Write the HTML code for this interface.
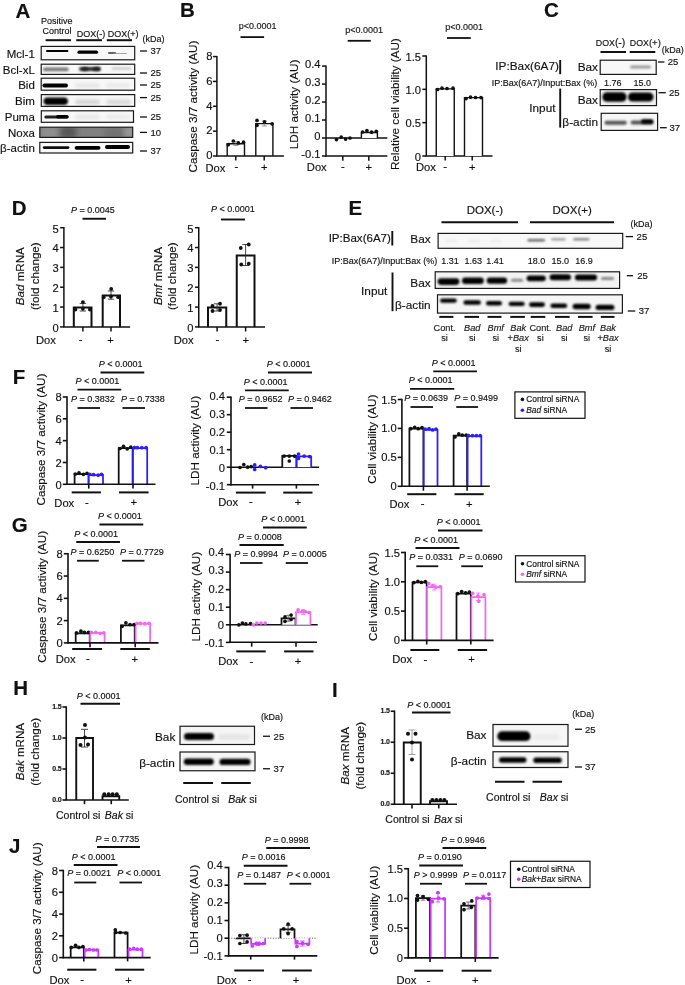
<!DOCTYPE html>
<html><head><meta charset="utf-8"><style>
html,body{margin:0;padding:0;background:#fff;}
body>svg{display:block;filter:blur(0.35px);}
text{font-family:"Liberation Sans", sans-serif;stroke:#111;stroke-width:0.15px;}
</style></head><body>
<svg width="685" height="985" viewBox="0 0 685 985" font-family='"Liberation Sans", sans-serif' fill="#111">

<defs>
<filter id="b04" x="-20%" y="-100%" width="140%" height="300%"><feGaussianBlur stdDeviation="0.55"/></filter>
<filter id="b07" x="-20%" y="-100%" width="140%" height="300%"><feGaussianBlur stdDeviation="0.95"/></filter>
<filter id="b1" x="-20%" y="-100%" width="140%" height="300%"><feGaussianBlur stdDeviation="1"/></filter>
<filter id="b15" x="-20%" y="-100%" width="140%" height="300%"><feGaussianBlur stdDeviation="1.5"/></filter>
<filter id="b25" x="-30%" y="-150%" width="160%" height="400%"><feGaussianBlur stdDeviation="2.5"/></filter>
</defs>

<rect width="685" height="985" fill="#fff"/>
<text x="15.60" y="17.64" font-size="20.5" font-weight="bold">A</text>
<text x="56.80" y="23.62" font-size="9" text-anchor="middle">Positive</text>
<text x="56.90" y="34.22" font-size="9" text-anchor="middle">Control</text>
<text x="90.90" y="36.82" font-size="9" text-anchor="middle">DOX(-)</text>
<text x="123.10" y="36.82" font-size="9" text-anchor="middle">DOX(+)</text>
<line x1="45.60" y1="40.20" x2="71.00" y2="40.20" stroke="#111" stroke-width="2" />
<line x1="76.25" y1="40.20" x2="102.00" y2="40.20" stroke="#111" stroke-width="2" />
<line x1="106.80" y1="40.20" x2="132.00" y2="40.20" stroke="#111" stroke-width="2" />
<text x="142.40" y="42.22" font-size="9">(kDa)</text>
<svg x="41.20" y="46.40" width="93.50" height="13.40" viewBox="41.20 46.40 93.50 13.40" overflow="hidden">
<rect x="41.20" y="46.40" width="93.50" height="13.40" fill="#f8f8f8"/>
<rect x="46.00" y="50.00" width="22.40" height="2.00" rx="1.00" fill="#000" opacity="1.0" filter="url(#b04)"/>
<rect x="77.40" y="50.60" width="20.70" height="3.20" rx="1.60" fill="#000" opacity="1.0" filter="url(#b04)"/>
<rect x="108.00" y="52.30" width="8.00" height="1.40" rx="0.70" fill="#333" opacity="1.0" filter="url(#b04)"/>
<rect x="113.00" y="52.95" width="14.00" height="0.90" rx="0.45" fill="#888" opacity="1.0" filter="url(#b04)"/>
</svg>
<rect x="41.20" y="46.40" width="93.50" height="13.40" fill="none" stroke="#1a1a1a" stroke-width="1.2" />
<text x="34.80" y="57.52" font-size="11.5" text-anchor="end">Mcl-1</text>
<line x1="140.00" y1="51.00" x2="147.00" y2="51.00" stroke="#111" stroke-width="1.3" />
<text x="150.40" y="54.40" font-size="9.5">37</text>
<svg x="41.20" y="64.20" width="93.50" height="10.20" viewBox="41.20 64.20 93.50 10.20" overflow="hidden">
<rect x="41.20" y="64.20" width="93.50" height="10.20" fill="#f8f8f8"/>
<rect x="43.00" y="67.60" width="25.70" height="3.60" rx="1.80" fill="#777" opacity="1.0" filter="url(#b07)"/>
<rect x="79.00" y="67.10" width="21.80" height="3.80" rx="1.90" fill="#333" opacity="1.0" filter="url(#b07)"/>
<rect x="82.00" y="67.20" width="6.00" height="3.60" rx="1.80" fill="#222" opacity="1.0" filter="url(#b07)"/>
<rect x="93.00" y="67.20" width="7.00" height="3.60" rx="1.80" fill="#222" opacity="1.0" filter="url(#b07)"/>
<rect x="111.70" y="67.35" width="19.70" height="2.50" rx="1.25" fill="#ccc" opacity="1.0" filter="url(#b1)"/>
</svg>
<rect x="41.20" y="64.20" width="93.50" height="10.20" fill="none" stroke="#1a1a1a" stroke-width="1.2" />
<text x="34.80" y="73.72" font-size="11.5" text-anchor="end">Bcl-xL</text>
<line x1="140.00" y1="73.00" x2="147.00" y2="73.00" stroke="#111" stroke-width="1.3" />
<text x="150.40" y="76.40" font-size="9.5">25</text>
<svg x="41.20" y="78.20" width="93.50" height="12.00" viewBox="41.20 78.20 93.50 12.00" overflow="hidden">
<rect x="41.20" y="78.20" width="93.50" height="12.00" fill="#f8f8f8"/>
<rect x="42.40" y="83.60" width="25.60" height="3.80" rx="1.90" fill="#000" opacity="1.0" filter="url(#b04)"/>
<rect x="75.00" y="83.00" width="25.00" height="5.00" rx="2.50" fill="#e8e8e8" opacity="1.0" filter="url(#b15)"/>
<rect x="106.00" y="83.00" width="24.00" height="5.00" rx="2.50" fill="#ebebeb" opacity="1.0" filter="url(#b15)"/>
</svg>
<rect x="41.20" y="78.20" width="93.50" height="12.00" fill="none" stroke="#1a1a1a" stroke-width="1.2" />
<text x="34.80" y="88.62" font-size="11.5" text-anchor="end">Bid</text>
<line x1="140.00" y1="85.00" x2="147.00" y2="85.00" stroke="#111" stroke-width="1.3" />
<text x="150.40" y="88.40" font-size="9.5">25</text>
<svg x="41.30" y="94.60" width="93.40" height="11.80" viewBox="41.30 94.60 93.40 11.80" overflow="hidden">
<rect x="41.30" y="94.60" width="93.40" height="11.80" fill="#f8f8f8"/>
<rect x="43.60" y="97.45" width="24.30" height="7.50" rx="3.75" fill="#000" opacity="1.0" filter="url(#b07)"/>
<rect x="75.00" y="99.50" width="25.00" height="5.00" rx="2.50" fill="#d6d6d6" opacity="1.0" filter="url(#b15)"/>
<rect x="106.00" y="99.50" width="25.00" height="5.00" rx="2.50" fill="#dadada" opacity="1.0" filter="url(#b15)"/>
</svg>
<rect x="41.30" y="94.60" width="93.40" height="11.80" fill="none" stroke="#1a1a1a" stroke-width="1.2" />
<text x="34.80" y="104.92" font-size="11.5" text-anchor="end">Bim</text>
<line x1="140.00" y1="97.60" x2="147.00" y2="97.60" stroke="#111" stroke-width="1.3" />
<text x="150.40" y="101.00" font-size="9.5">25</text>
<svg x="41.30" y="110.80" width="92.20" height="11.50" viewBox="41.30 110.80 92.20 11.50" overflow="hidden">
<rect x="41.30" y="110.80" width="92.20" height="11.50" fill="#f8f8f8"/>
<rect x="44.30" y="115.50" width="24.30" height="3.00" rx="1.50" fill="#222" opacity="1.0" filter="url(#b04)"/>
<rect x="56.00" y="115.10" width="12.60" height="3.40" rx="1.70" fill="#000" opacity="1.0" filter="url(#b04)"/>
<rect x="75.00" y="114.50" width="25.00" height="5.00" rx="2.50" fill="#e8e8e8" opacity="1.0" filter="url(#b15)"/>
<rect x="106.00" y="114.50" width="24.00" height="5.00" rx="2.50" fill="#ebebeb" opacity="1.0" filter="url(#b15)"/>
</svg>
<rect x="41.30" y="110.80" width="92.20" height="11.50" fill="none" stroke="#1a1a1a" stroke-width="1.2" />
<text x="34.80" y="120.97" font-size="11.5" text-anchor="end">Puma</text>
<line x1="140.00" y1="117.00" x2="147.00" y2="117.00" stroke="#111" stroke-width="1.3" />
<text x="150.40" y="120.40" font-size="9.5">25</text>
<svg x="39.80" y="127.20" width="92.90" height="10.20" viewBox="39.80 127.20 92.90 10.20" overflow="hidden">
<rect x="39.80" y="127.20" width="92.90" height="10.20" fill="#808080"/>
<rect x="40.00" y="126.30" width="18.00" height="12.00" rx="6.00" fill="#9a9a9a" opacity="0.6" filter="url(#b25)"/>
<rect x="60.00" y="126.80" width="17.00" height="11.00" rx="5.50" fill="#333" opacity="0.55" filter="url(#b25)"/>
<rect x="104.00" y="128.00" width="20.00" height="10.00" rx="5.00" fill="#555" opacity="0.35" filter="url(#b25)"/>
<rect x="124.00" y="126.30" width="10.00" height="12.00" rx="5.00" fill="#b0b0b0" opacity="0.5" filter="url(#b25)"/>
</svg>
<rect x="39.80" y="127.20" width="92.90" height="10.20" fill="none" stroke="#1a1a1a" stroke-width="1.2" />
<text x="34.80" y="136.72" font-size="11.5" text-anchor="end">Noxa</text>
<line x1="140.00" y1="132.40" x2="147.00" y2="132.40" stroke="#111" stroke-width="1.3" />
<text x="150.40" y="135.80" font-size="9.5">10</text>
<svg x="39.80" y="142.40" width="92.90" height="10.60" viewBox="39.80 142.40 92.90 10.60" overflow="hidden">
<rect x="39.80" y="142.40" width="92.90" height="10.60" fill="#f8f8f8"/>
<rect x="42.80" y="146.20" width="26.60" height="2.80" rx="1.40" fill="#111" opacity="1.0" filter="url(#b04)"/>
<rect x="74.70" y="145.90" width="25.80" height="3.80" rx="1.90" fill="#000" opacity="1.0" filter="url(#b04)"/>
<rect x="105.00" y="144.90" width="25.00" height="4.00" rx="2.00" fill="#000" opacity="1.0" filter="url(#b04)"/>
</svg>
<rect x="39.80" y="142.40" width="92.90" height="10.60" fill="none" stroke="#1a1a1a" stroke-width="1.2" />
<text x="34.80" y="152.12" font-size="11.5" text-anchor="end">β-actin</text>
<line x1="140.00" y1="151.00" x2="147.00" y2="151.00" stroke="#111" stroke-width="1.3" />
<text x="150.40" y="154.40" font-size="9.5">37</text>
<text x="180.00" y="17.14" font-size="20.5" font-weight="bold">B</text>
<line x1="216.90" y1="55.96" x2="216.90" y2="156.00" stroke="#111" stroke-width="1.5" />
<line x1="212.90" y1="156.00" x2="216.90" y2="156.00" stroke="#111" stroke-width="1.5" />
<text x="212.60" y="159.31" font-size="11.2" text-anchor="end">0</text>
<line x1="212.90" y1="131.14" x2="216.90" y2="131.14" stroke="#111" stroke-width="1.5" />
<text x="212.60" y="134.45" font-size="11.2" text-anchor="end">2</text>
<line x1="212.90" y1="106.28" x2="216.90" y2="106.28" stroke="#111" stroke-width="1.5" />
<text x="212.60" y="109.59" font-size="11.2" text-anchor="end">4</text>
<line x1="212.90" y1="81.42" x2="216.90" y2="81.42" stroke="#111" stroke-width="1.5" />
<text x="212.60" y="84.73" font-size="11.2" text-anchor="end">6</text>
<line x1="212.90" y1="56.56" x2="216.90" y2="56.56" stroke="#111" stroke-width="1.5" />
<text x="212.60" y="59.87" font-size="11.2" text-anchor="end">8</text>
<path d="M227.20,156.00 L227.20,143.70 L244.50,143.70 L244.50,156.00" fill="#fff" stroke="#111" stroke-width="1.4"/>
<path d="M255.80,156.00 L255.80,123.60 L272.90,123.60 L272.90,156.00" fill="#fff" stroke="#111" stroke-width="1.4"/>
<line x1="235.85" y1="141.50" x2="235.85" y2="145.50" stroke="#777" stroke-width="0.7" />
<line x1="233.35" y1="141.50" x2="238.35" y2="141.50" stroke="#777" stroke-width="0.7" />
<line x1="233.35" y1="145.50" x2="238.35" y2="145.50" stroke="#777" stroke-width="0.7" />
<line x1="264.35" y1="121.00" x2="264.35" y2="126.00" stroke="#777" stroke-width="0.7" />
<line x1="261.85" y1="121.00" x2="266.85" y2="121.00" stroke="#777" stroke-width="0.7" />
<line x1="261.85" y1="126.00" x2="266.85" y2="126.00" stroke="#777" stroke-width="0.7" />
<circle cx="228.20" cy="144.70" r="1.85" fill="#111"/>
<circle cx="233.30" cy="141.00" r="1.85" fill="#111"/>
<circle cx="238.40" cy="142.90" r="1.85" fill="#111"/>
<circle cx="243.50" cy="142.20" r="1.85" fill="#111"/>
<circle cx="257.00" cy="120.40" r="1.85" fill="#111"/>
<circle cx="257.00" cy="125.30" r="1.85" fill="#111"/>
<circle cx="264.50" cy="121.75" r="1.85" fill="#111"/>
<circle cx="272.10" cy="123.80" r="1.85" fill="#111"/>
<line x1="216.20" y1="156.00" x2="283.90" y2="156.00" stroke="#111" stroke-width="1.5" />
<line x1="235.80" y1="156.00" x2="235.80" y2="160.50" stroke="#111" stroke-width="1.5" />
<line x1="264.20" y1="156.00" x2="264.20" y2="160.50" stroke="#111" stroke-width="1.5" />
<text x="205.50" y="171.51" font-size="11.2">Dox</text>
<text x="236.30" y="170.31" font-size="11.2" text-anchor="middle">-</text>
<text x="264.20" y="171.31" font-size="11.2" text-anchor="middle">+</text>
<line x1="240.50" y1="37.10" x2="264.10" y2="37.10" stroke="#111" stroke-width="1.8" />
<text x="238.80" y="28.92" font-size="9" fill="#222">p&lt;0.0001</text>
<text transform="translate(197.29,106.50) rotate(-90)" font-size="11.7" text-anchor="middle">Caspase 3/7 activity (AU)</text>
<line x1="326.00" y1="65.48" x2="326.00" y2="156.58" stroke="#111" stroke-width="1.5" />
<line x1="322.00" y1="66.08" x2="326.00" y2="66.08" stroke="#111" stroke-width="1.5" />
<text x="320.60" y="68.19" font-size="11.2" text-anchor="end">0.4</text>
<line x1="322.00" y1="84.06" x2="326.00" y2="84.06" stroke="#111" stroke-width="1.5" />
<text x="320.60" y="86.17" font-size="11.2" text-anchor="end">0.3</text>
<line x1="322.00" y1="102.04" x2="326.00" y2="102.04" stroke="#111" stroke-width="1.5" />
<text x="320.60" y="104.15" font-size="11.2" text-anchor="end">0.2</text>
<line x1="322.00" y1="120.02" x2="326.00" y2="120.02" stroke="#111" stroke-width="1.5" />
<text x="320.60" y="122.13" font-size="11.2" text-anchor="end">0.1</text>
<line x1="322.00" y1="138.00" x2="326.00" y2="138.00" stroke="#111" stroke-width="1.5" />
<text x="320.60" y="140.11" font-size="11.2" text-anchor="end">0</text>
<line x1="322.00" y1="155.98" x2="326.00" y2="155.98" stroke="#111" stroke-width="1.5" />
<text x="320.60" y="158.09" font-size="11.2" text-anchor="end">-0.1</text>
<line x1="325.30" y1="155.98" x2="387.30" y2="155.98" stroke="#111" stroke-width="1.5" />
<line x1="326.00" y1="138.00" x2="387.30" y2="138.00" stroke="#111" stroke-width="1.5" />
<path d="M361.40,138.00 L361.40,132.50 L377.40,132.50 L377.40,138.00" fill="#fff" stroke="#111" stroke-width="1.4"/>
<circle cx="336.50" cy="139.60" r="1.85" fill="#111"/>
<circle cx="341.20" cy="137.20" r="1.85" fill="#111"/>
<circle cx="345.60" cy="139.10" r="1.85" fill="#111"/>
<circle cx="350.00" cy="138.00" r="1.85" fill="#111"/>
<circle cx="362.60" cy="132.00" r="1.85" fill="#111"/>
<circle cx="366.90" cy="130.60" r="1.85" fill="#111"/>
<circle cx="371.60" cy="132.20" r="1.85" fill="#111"/>
<circle cx="376.30" cy="131.30" r="1.85" fill="#111"/>
<line x1="342.80" y1="155.98" x2="342.80" y2="160.80" stroke="#111" stroke-width="1.5" />
<line x1="368.80" y1="155.98" x2="368.80" y2="160.80" stroke="#111" stroke-width="1.5" />
<text x="306.80" y="171.11" font-size="11.2">Dox</text>
<text x="342.80" y="170.31" font-size="11.2" text-anchor="middle">-</text>
<text x="368.80" y="171.31" font-size="11.2" text-anchor="middle">+</text>
<line x1="347.70" y1="40.80" x2="370.80" y2="40.80" stroke="#111" stroke-width="1.8" />
<text x="345.20" y="33.42" font-size="9" fill="#222">p&lt;0.0001</text>
<text transform="translate(298.09,104.40) rotate(-90)" font-size="11.7" text-anchor="middle">LDH activity (AU)</text>
<line x1="426.30" y1="55.40" x2="426.30" y2="156.00" stroke="#111" stroke-width="1.5" />
<line x1="422.30" y1="56.00" x2="426.30" y2="56.00" stroke="#111" stroke-width="1.5" />
<text x="421.10" y="60.50" font-size="11.2" text-anchor="end">1.5</text>
<line x1="422.30" y1="89.33" x2="426.30" y2="89.33" stroke="#111" stroke-width="1.5" />
<text x="421.10" y="93.84" font-size="11.2" text-anchor="end">1.0</text>
<line x1="422.30" y1="122.66" x2="426.30" y2="122.66" stroke="#111" stroke-width="1.5" />
<text x="421.10" y="127.17" font-size="11.2" text-anchor="end">0.5</text>
<line x1="422.30" y1="156.00" x2="426.30" y2="156.00" stroke="#111" stroke-width="1.5" />
<text x="421.10" y="160.51" font-size="11.2" text-anchor="end">0</text>
<line x1="425.60" y1="156.00" x2="492.50" y2="156.00" stroke="#111" stroke-width="1.5" />
<path d="M436.25,156.00 L436.25,88.90 L454.25,88.90 L454.25,156.00" fill="#fff" stroke="#111" stroke-width="1.4"/>
<path d="M464.50,156.00 L464.50,97.60 L482.50,97.60 L482.50,156.00" fill="#fff" stroke="#111" stroke-width="1.4"/>
<circle cx="437.50" cy="89.50" r="1.85" fill="#111"/>
<circle cx="442.00" cy="88.20" r="1.85" fill="#111"/>
<circle cx="447.00" cy="88.50" r="1.85" fill="#111"/>
<circle cx="453.00" cy="88.20" r="1.85" fill="#111"/>
<circle cx="466.00" cy="98.60" r="1.85" fill="#111"/>
<circle cx="470.50" cy="97.20" r="1.85" fill="#111"/>
<circle cx="475.50" cy="97.50" r="1.85" fill="#111"/>
<circle cx="481.00" cy="97.60" r="1.85" fill="#111"/>
<line x1="445.20" y1="156.00" x2="445.20" y2="160.50" stroke="#111" stroke-width="1.5" />
<line x1="472.20" y1="156.00" x2="472.20" y2="160.50" stroke="#111" stroke-width="1.5" />
<text x="416.00" y="171.11" font-size="11.2">Dox</text>
<text x="445.20" y="170.31" font-size="11.2" text-anchor="middle">-</text>
<text x="472.20" y="171.31" font-size="11.2" text-anchor="middle">+</text>
<line x1="447.00" y1="38.00" x2="470.75" y2="38.00" stroke="#111" stroke-width="1.8" />
<text x="445.30" y="30.22" font-size="9" fill="#222">p&lt;0.0001</text>
<text transform="translate(399.39,104.20) rotate(-90)" font-size="11.7" text-anchor="middle">Relative cell viability (AU)</text>
<text x="544.00" y="17.34" font-size="20.5" font-weight="bold">C</text>
<text x="595.8" y="46.2" font-size="8.8">DOX<tspan font-size="10.5">(-)</tspan></text>
<text x="629.8" y="46.3" font-size="8.8">DOX<tspan font-size="9.6">(+)</tspan></text>
<line x1="600.50" y1="52.00" x2="626.00" y2="52.00" stroke="#111" stroke-width="2" />
<line x1="629.70" y1="52.00" x2="655.30" y2="52.00" stroke="#111" stroke-width="2" />
<text x="661.80" y="52.52" font-size="9">(kDa)</text>
<text x="558.90" y="70.42" font-size="11.8" text-anchor="end">IP:Bax(6A7)</text>
<line x1="560.20" y1="60.00" x2="560.20" y2="74.20" stroke="#111" stroke-width="1.9" />
<text x="598.00" y="71.42" font-size="11.8" text-anchor="end">Bax</text>
<text x="597.30" y="85.82" font-size="9" text-anchor="end">IP:Bax(6A7)/Input:Bax (%)</text>
<text x="612.80" y="85.82" font-size="9" text-anchor="middle">1.76</text>
<text x="642.20" y="85.82" font-size="9" text-anchor="middle">15.0</text>
<text x="555.50" y="112.42" font-size="11.8" text-anchor="end">Input</text>
<line x1="560.20" y1="88.60" x2="560.20" y2="127.60" stroke="#111" stroke-width="1.9" />
<text x="598.00" y="103.92" font-size="11.8" text-anchor="end">Bax</text>
<text x="598.00" y="125.52" font-size="11.8" text-anchor="end">β-actin</text>
<svg x="600.20" y="60.20" width="56.00" height="14.20" viewBox="600.20 60.20 56.00 14.20" overflow="hidden">
<rect x="600.20" y="60.20" width="56.00" height="14.20" fill="#f8f8f8"/>
<rect x="630.00" y="65.40" width="21.00" height="3.00" rx="1.50" fill="#9a9a9a" opacity="1.0" filter="url(#b1)"/>
</svg>
<svg x="600.20" y="89.60" width="56.30" height="16.00" viewBox="600.20 89.60 56.30 16.00" overflow="hidden">
<rect x="600.20" y="89.60" width="56.30" height="16.00" fill="#f2f2f2"/>
<rect x="602.30" y="92.20" width="24.30" height="9.60" rx="4.80" fill="#000" opacity="1.0" filter="url(#b07)"/>
<rect x="628.00" y="92.40" width="25.50" height="9.20" rx="4.60" fill="#000" opacity="1.0" filter="url(#b07)"/>
</svg>
<svg x="601.20" y="113.30" width="56.40" height="17.10" viewBox="601.20 113.30 56.40 17.10" overflow="hidden">
<rect x="601.20" y="113.30" width="56.40" height="17.10" fill="#f6f6f6"/>
<rect x="604.50" y="120.80" width="22.30" height="4.00" rx="2.00" fill="#555" opacity="1.0" filter="url(#b07)"/>
<rect x="630.60" y="120.40" width="22.70" height="4.00" rx="2.00" fill="#555" opacity="1.0" filter="url(#b07)"/>
<rect x="641.00" y="119.15" width="12.30" height="4.50" rx="2.25" fill="#000" opacity="1.0" filter="url(#b07)"/>
</svg>
<rect x="600.20" y="60.20" width="56.00" height="14.20" fill="none" stroke="#1a1a1a" stroke-width="1.2" />
<rect x="600.20" y="89.60" width="56.30" height="16.00" fill="none" stroke="#1a1a1a" stroke-width="1.2" />
<rect x="601.20" y="113.30" width="56.40" height="17.10" fill="none" stroke="#1a1a1a" stroke-width="1.2" />
<line x1="658.00" y1="62.00" x2="664.40" y2="62.00" stroke="#111" stroke-width="1.3" />
<text x="667.70" y="65.40" font-size="9.5">25</text>
<line x1="658.50" y1="92.70" x2="665.80" y2="92.70" stroke="#111" stroke-width="1.3" />
<text x="669.00" y="96.10" font-size="9.5">25</text>
<line x1="660.00" y1="127.70" x2="666.75" y2="127.70" stroke="#111" stroke-width="1.3" />
<text x="669.50" y="131.10" font-size="9.5">37</text>
<text x="11.80" y="214.64" font-size="20.5" font-weight="bold">D</text>
<line x1="63.90" y1="227.10" x2="63.90" y2="326.90" stroke="#111" stroke-width="1.5" />
<line x1="60.10" y1="326.90" x2="63.90" y2="326.90" stroke="#111" stroke-width="1.5" />
<text x="58.70" y="331.71" font-size="11.2" text-anchor="end">0</text>
<line x1="60.10" y1="307.06" x2="63.90" y2="307.06" stroke="#111" stroke-width="1.5" />
<text x="58.70" y="311.87" font-size="11.2" text-anchor="end">1</text>
<line x1="60.10" y1="287.22" x2="63.90" y2="287.22" stroke="#111" stroke-width="1.5" />
<text x="58.70" y="292.03" font-size="11.2" text-anchor="end">2</text>
<line x1="60.10" y1="267.38" x2="63.90" y2="267.38" stroke="#111" stroke-width="1.5" />
<text x="58.70" y="272.19" font-size="11.2" text-anchor="end">3</text>
<line x1="60.10" y1="247.54" x2="63.90" y2="247.54" stroke="#111" stroke-width="1.5" />
<text x="58.70" y="252.35" font-size="11.2" text-anchor="end">4</text>
<line x1="60.10" y1="227.70" x2="63.90" y2="227.70" stroke="#111" stroke-width="1.5" />
<text x="58.70" y="232.51" font-size="11.2" text-anchor="end">5</text>
<path d="M73.80,326.90 L73.80,307.50 L91.50,307.50 L91.50,326.90" fill="#fff" stroke="#111" stroke-width="2"/>
<path d="M102.70,326.90 L102.70,295.60 L120.00,295.60 L120.00,326.90" fill="#fff" stroke="#111" stroke-width="2"/>
<line x1="82.90" y1="303.40" x2="82.90" y2="311.00" stroke="#333" stroke-width="0.9" />
<line x1="79.70" y1="303.40" x2="86.10" y2="303.40" stroke="#333" stroke-width="0.9" />
<line x1="79.70" y1="311.00" x2="86.10" y2="311.00" stroke="#333" stroke-width="0.9" />
<line x1="111.00" y1="291.00" x2="111.00" y2="299.20" stroke="#333" stroke-width="0.9" />
<line x1="107.80" y1="291.00" x2="114.20" y2="291.00" stroke="#333" stroke-width="0.9" />
<line x1="107.80" y1="299.20" x2="114.20" y2="299.20" stroke="#333" stroke-width="0.9" />
<circle cx="82.90" cy="302.10" r="1.9" fill="#111"/>
<circle cx="75.40" cy="309.50" r="1.9" fill="#111"/>
<circle cx="82.90" cy="308.70" r="1.9" fill="#111"/>
<circle cx="89.90" cy="309.50" r="1.9" fill="#111"/>
<circle cx="111.20" cy="288.90" r="1.9" fill="#111"/>
<circle cx="103.70" cy="297.20" r="1.9" fill="#111"/>
<circle cx="111.00" cy="296.50" r="1.9" fill="#111"/>
<circle cx="118.20" cy="297.20" r="1.9" fill="#111"/>
<line x1="63.20" y1="326.90" x2="130.10" y2="326.90" stroke="#111" stroke-width="1.5" />
<line x1="82.90" y1="326.90" x2="82.90" y2="331.50" stroke="#111" stroke-width="1.5" />
<line x1="111.00" y1="326.90" x2="111.00" y2="331.50" stroke="#111" stroke-width="1.5" />
<text x="36.00" y="344.01" font-size="11.2">Dox</text>
<text x="80.60" y="343.21" font-size="11.2" text-anchor="middle">-</text>
<text x="110.60" y="344.31" font-size="11.2" text-anchor="middle">+</text>
<line x1="82.50" y1="218.75" x2="106.00" y2="218.75" stroke="#111" stroke-width="1.9" />
<text x="71.00" y="212.72" font-size="9"><tspan font-style="italic">P</tspan> = 0.0045</text>
<text transform="translate(24.20,276.20) rotate(-90)" font-size="11.6" text-anchor="middle"><tspan font-style="italic">Bad</tspan> mRNA</text>
<text transform="translate(38.50,276.20) rotate(-90)" font-size="11.6" text-anchor="middle">(fold change)</text>
<line x1="198.75" y1="227.10" x2="198.75" y2="326.90" stroke="#111" stroke-width="1.5" />
<line x1="194.95" y1="326.90" x2="198.75" y2="326.90" stroke="#111" stroke-width="1.5" />
<text x="193.55" y="331.71" font-size="11.2" text-anchor="end">0</text>
<line x1="194.95" y1="307.06" x2="198.75" y2="307.06" stroke="#111" stroke-width="1.5" />
<text x="193.55" y="311.87" font-size="11.2" text-anchor="end">1</text>
<line x1="194.95" y1="287.22" x2="198.75" y2="287.22" stroke="#111" stroke-width="1.5" />
<text x="193.55" y="292.03" font-size="11.2" text-anchor="end">2</text>
<line x1="194.95" y1="267.38" x2="198.75" y2="267.38" stroke="#111" stroke-width="1.5" />
<text x="193.55" y="272.19" font-size="11.2" text-anchor="end">3</text>
<line x1="194.95" y1="247.54" x2="198.75" y2="247.54" stroke="#111" stroke-width="1.5" />
<text x="193.55" y="252.35" font-size="11.2" text-anchor="end">4</text>
<line x1="194.95" y1="227.70" x2="198.75" y2="227.70" stroke="#111" stroke-width="1.5" />
<text x="193.55" y="232.51" font-size="11.2" text-anchor="end">5</text>
<path d="M208.00,326.90 L208.00,307.50 L226.25,307.50 L226.25,326.90" fill="#fff" stroke="#111" stroke-width="2"/>
<path d="M236.75,326.90 L236.75,255.50 L254.50,255.50 L254.50,326.90" fill="#fff" stroke="#111" stroke-width="2"/>
<line x1="217.10" y1="303.80" x2="217.10" y2="311.00" stroke="#333" stroke-width="0.9" />
<line x1="213.90" y1="303.80" x2="220.30" y2="303.80" stroke="#333" stroke-width="0.9" />
<line x1="213.90" y1="311.00" x2="220.30" y2="311.00" stroke="#333" stroke-width="0.9" />
<line x1="245.60" y1="244.50" x2="245.60" y2="265.50" stroke="#333" stroke-width="0.9" />
<line x1="242.40" y1="244.50" x2="248.80" y2="244.50" stroke="#333" stroke-width="0.9" />
<line x1="242.40" y1="265.50" x2="248.80" y2="265.50" stroke="#333" stroke-width="0.9" />
<circle cx="212.50" cy="306.00" r="1.9" fill="#111"/>
<circle cx="220.00" cy="303.75" r="1.9" fill="#111"/>
<circle cx="212.50" cy="311.00" r="1.9" fill="#111"/>
<circle cx="220.00" cy="310.00" r="1.9" fill="#111"/>
<circle cx="240.75" cy="248.00" r="1.9" fill="#111"/>
<circle cx="248.75" cy="244.50" r="1.9" fill="#111"/>
<circle cx="241.25" cy="264.50" r="1.9" fill="#111"/>
<circle cx="248.75" cy="263.75" r="1.9" fill="#111"/>
<line x1="198.05" y1="326.90" x2="265.00" y2="326.90" stroke="#111" stroke-width="1.5" />
<line x1="217.10" y1="326.90" x2="217.10" y2="331.50" stroke="#111" stroke-width="1.5" />
<line x1="245.60" y1="326.90" x2="245.60" y2="331.50" stroke="#111" stroke-width="1.5" />
<text x="173.75" y="344.01" font-size="11.2">Dox</text>
<text x="217.30" y="343.21" font-size="11.2" text-anchor="middle">-</text>
<text x="245.80" y="344.31" font-size="11.2" text-anchor="middle">+</text>
<line x1="221.00" y1="219.50" x2="245.00" y2="219.50" stroke="#111" stroke-width="1.9" />
<text x="211.00" y="211.97" font-size="9"><tspan font-style="italic">P</tspan> &lt; 0.0001</text>
<text transform="translate(162.10,276.10) rotate(-90)" font-size="11.6" text-anchor="middle"><tspan font-style="italic">Bmf</tspan> mRNA</text>
<text transform="translate(175.70,276.20) rotate(-90)" font-size="11.6" text-anchor="middle">(fold change)</text>
<text x="348.50" y="214.84" font-size="20.5" font-weight="bold">E</text>
<text x="484.90" y="213.62" font-size="11.5" text-anchor="middle">DOX(-)</text>
<text x="572.20" y="213.62" font-size="11.5" text-anchor="middle">DOX(+)</text>
<line x1="441.50" y1="222.20" x2="518.00" y2="222.20" stroke="#111" stroke-width="2" />
<line x1="530.00" y1="222.20" x2="614.00" y2="222.20" stroke="#111" stroke-width="2" />
<text x="630.40" y="226.62" font-size="9">(kDa)</text>
<text x="390.90" y="241.63" font-size="11.55" text-anchor="end">IP:Bax(6A7)</text>
<line x1="392.30" y1="231.00" x2="392.30" y2="245.50" stroke="#111" stroke-width="1.9" />
<text x="430.60" y="243.42" font-size="11.8" text-anchor="end">Bax</text>
<text x="437.20" y="263.82" font-size="9" text-anchor="end">IP:Bax(6A7)/Input:Bax (%)</text>
<text x="449.90" y="263.52" font-size="9" text-anchor="middle">1.31</text>
<text x="473.20" y="263.52" font-size="9" text-anchor="middle">1.63</text>
<text x="495.10" y="263.52" font-size="9" text-anchor="middle">1.41</text>
<text x="536.40" y="263.52" font-size="9" text-anchor="middle">18.0</text>
<text x="560.30" y="263.52" font-size="9" text-anchor="middle">15.0</text>
<text x="583.90" y="263.52" font-size="9" text-anchor="middle">16.9</text>
<text x="387.30" y="295.42" font-size="11.8" text-anchor="end">Input</text>
<line x1="392.50" y1="272.50" x2="392.50" y2="311.20" stroke="#111" stroke-width="1.9" />
<text x="430.60" y="286.92" font-size="11.8" text-anchor="end">Bax</text>
<text x="430.60" y="308.92" font-size="11.8" text-anchor="end">β-actin</text>
<svg x="438.10" y="233.40" width="184.60" height="14.90" viewBox="438.10 233.40 184.60 14.90" overflow="hidden">
<rect x="438.10" y="233.40" width="184.60" height="14.90" fill="#f8f8f8"/>
<rect x="527.40" y="239.00" width="17.60" height="2.60" rx="1.30" fill="#666" opacity="1.0" filter="url(#b07)"/>
<rect x="551.00" y="238.20" width="14.70" height="2.20" rx="1.10" fill="#999" opacity="1.0" filter="url(#b07)"/>
<rect x="573.30" y="238.05" width="16.10" height="2.50" rx="1.25" fill="#888" opacity="1.0" filter="url(#b07)"/>
<rect x="445.00" y="240.00" width="12.00" height="2.00" rx="1.00" fill="#eaeaea" opacity="1.0" filter="url(#b1)"/>
<rect x="468.00" y="240.00" width="12.00" height="2.00" rx="1.00" fill="#eaeaea" opacity="1.0" filter="url(#b1)"/>
<rect x="490.00" y="240.00" width="12.00" height="2.00" rx="1.00" fill="#eaeaea" opacity="1.0" filter="url(#b1)"/>
</svg>
<svg x="435.20" y="271.80" width="184.40" height="16.60" viewBox="435.20 271.80 184.40 16.60" overflow="hidden">
<rect x="435.20" y="271.80" width="184.40" height="16.60" fill="#f3f3f3"/>
<rect x="437.60" y="278.30" width="21.80" height="6.60" rx="3.30" fill="#000" opacity="1.0" filter="url(#b07)"/>
<rect x="462.00" y="277.60" width="21.80" height="6.40" rx="3.20" fill="#000" opacity="1.0" filter="url(#b07)"/>
<rect x="486.70" y="277.40" width="20.50" height="6.40" rx="3.20" fill="#000" opacity="1.0" filter="url(#b07)"/>
<rect x="510.80" y="278.70" width="12.40" height="3.00" rx="1.50" fill="#888" opacity="1.0" filter="url(#b07)"/>
<rect x="526.60" y="275.40" width="19.20" height="5.80" rx="2.90" fill="#000" opacity="1.0" filter="url(#b07)"/>
<rect x="549.60" y="274.20" width="21.40" height="6.00" rx="3.00" fill="#000" opacity="1.0" filter="url(#b07)"/>
<rect x="574.90" y="274.40" width="22.20" height="6.00" rx="3.00" fill="#000" opacity="1.0" filter="url(#b07)"/>
<rect x="601.00" y="277.10" width="13.00" height="3.00" rx="1.50" fill="#888" opacity="1.0" filter="url(#b07)"/>
</svg>
<svg x="437.50" y="294.80" width="184.90" height="18.30" viewBox="437.50 294.80 184.90 18.30" overflow="hidden">
<rect x="437.50" y="294.80" width="184.90" height="18.30" fill="#f6f6f6"/>
<rect x="440.00" y="298.40" width="16.80" height="4.40" rx="2.20" fill="#000" opacity="1.0" filter="url(#b07)"/>
<rect x="463.40" y="300.30" width="17.50" height="4.40" rx="2.20" fill="#000" opacity="1.0" filter="url(#b07)"/>
<rect x="486.00" y="300.90" width="16.00" height="4.60" rx="2.30" fill="#000" opacity="1.0" filter="url(#b07)"/>
<rect x="508.60" y="301.80" width="16.10" height="4.20" rx="2.10" fill="#000" opacity="1.0" filter="url(#b07)"/>
<rect x="529.00" y="302.30" width="16.00" height="4.60" rx="2.30" fill="#000" opacity="1.0" filter="url(#b07)"/>
<rect x="550.40" y="303.40" width="16.80" height="4.60" rx="2.30" fill="#000" opacity="1.0" filter="url(#b07)"/>
<rect x="572.60" y="303.80" width="18.10" height="5.40" rx="2.70" fill="#000" opacity="1.0" filter="url(#b07)"/>
<rect x="595.60" y="304.70" width="18.80" height="5.40" rx="2.70" fill="#000" opacity="1.0" filter="url(#b07)"/>
</svg>
<rect x="438.10" y="233.40" width="184.60" height="14.90" fill="none" stroke="#1a1a1a" stroke-width="1.2" />
<rect x="435.20" y="271.80" width="184.40" height="16.60" fill="none" stroke="#1a1a1a" stroke-width="1.2" />
<rect x="437.50" y="294.80" width="184.90" height="18.30" fill="none" stroke="#1a1a1a" stroke-width="1.2" />
<line x1="625.70" y1="236.60" x2="633.00" y2="236.60" stroke="#111" stroke-width="1.3" />
<text x="636.60" y="240.00" font-size="9.5">25</text>
<line x1="626.80" y1="275.70" x2="633.00" y2="275.70" stroke="#111" stroke-width="1.3" />
<text x="637.20" y="279.10" font-size="9.5">25</text>
<line x1="627.80" y1="311.00" x2="635.30" y2="311.00" stroke="#111" stroke-width="1.3" />
<text x="638.70" y="314.40" font-size="9.5">37</text>
<line x1="439.30" y1="316.90" x2="453.40" y2="316.90" stroke="#111" stroke-width="2" />
<line x1="464.50" y1="316.90" x2="479.00" y2="316.90" stroke="#111" stroke-width="2" />
<line x1="487.50" y1="316.90" x2="501.50" y2="316.90" stroke="#111" stroke-width="2" />
<line x1="510.30" y1="316.90" x2="524.90" y2="316.90" stroke="#111" stroke-width="2" />
<line x1="530.70" y1="316.90" x2="545.30" y2="316.90" stroke="#111" stroke-width="2" />
<line x1="555.00" y1="316.90" x2="569.60" y2="316.90" stroke="#111" stroke-width="2" />
<line x1="578.00" y1="316.90" x2="592.60" y2="316.90" stroke="#111" stroke-width="2" />
<line x1="600.80" y1="316.90" x2="614.50" y2="316.90" stroke="#111" stroke-width="2" />
<text x="444.60" y="330.69" font-size="9.2" text-anchor="middle" fill="#222">Cont.</text>
<text x="444.60" y="340.89" font-size="9.2" text-anchor="middle" fill="#222">si</text>
<text x="472.30" y="330.69" font-size="9.2" text-anchor="middle" fill="#222"><tspan font-style="italic">Bad</tspan></text>
<text x="472.30" y="340.89" font-size="9.2" text-anchor="middle" fill="#222">si</text>
<text x="495.70" y="330.69" font-size="9.2" text-anchor="middle" fill="#222"><tspan font-style="italic">Bmf</tspan></text>
<text x="495.70" y="340.89" font-size="9.2" text-anchor="middle" fill="#222">si</text>
<text x="518.20" y="330.69" font-size="9.2" text-anchor="middle" fill="#222"><tspan font-style="italic">Bak</tspan></text>
<text x="518.20" y="340.89" font-size="9.2" text-anchor="middle" fill="#222">+<tspan font-style="italic">Bax</tspan></text>
<text x="518.20" y="351.89" font-size="9.2" text-anchor="middle" fill="#222">si</text>
<text x="540.40" y="330.69" font-size="9.2" text-anchor="middle" fill="#222">Cont.</text>
<text x="540.40" y="340.89" font-size="9.2" text-anchor="middle" fill="#222">si</text>
<text x="564.30" y="330.69" font-size="9.2" text-anchor="middle" fill="#222"><tspan font-style="italic">Bad</tspan></text>
<text x="564.30" y="340.89" font-size="9.2" text-anchor="middle" fill="#222">si</text>
<text x="586.80" y="330.69" font-size="9.2" text-anchor="middle" fill="#222"><tspan font-style="italic">Bmf</tspan></text>
<text x="586.80" y="340.89" font-size="9.2" text-anchor="middle" fill="#222">si</text>
<text x="608.00" y="330.69" font-size="9.2" text-anchor="middle" fill="#222"><tspan font-style="italic">Bak</tspan></text>
<text x="608.00" y="340.89" font-size="9.2" text-anchor="middle" fill="#222">+<tspan font-style="italic">Bax</tspan></text>
<text x="608.00" y="351.89" font-size="9.2" text-anchor="middle" fill="#222">si</text>
<text x="12.80" y="383.84" font-size="20.5" font-weight="bold">F</text>
<line x1="67.00" y1="396.30" x2="67.00" y2="485.00" stroke="#111" stroke-width="1.6" />
<line x1="62.80" y1="484.30" x2="67.00" y2="484.30" stroke="#111" stroke-width="1.6" />
<text x="61.80" y="488.61" font-size="11.2" text-anchor="end">0</text>
<line x1="62.80" y1="462.48" x2="67.00" y2="462.48" stroke="#111" stroke-width="1.6" />
<text x="61.80" y="466.78" font-size="11.2" text-anchor="end">2</text>
<line x1="62.80" y1="440.65" x2="67.00" y2="440.65" stroke="#111" stroke-width="1.6" />
<text x="61.80" y="444.96" font-size="11.2" text-anchor="end">4</text>
<line x1="62.80" y1="418.82" x2="67.00" y2="418.82" stroke="#111" stroke-width="1.6" />
<text x="61.80" y="423.13" font-size="11.2" text-anchor="end">6</text>
<line x1="62.80" y1="397.00" x2="67.00" y2="397.00" stroke="#111" stroke-width="1.6" />
<text x="61.80" y="401.31" font-size="11.2" text-anchor="end">8</text>
<path d="M74.60,484.30 L74.60,474.20 L88.50,474.20 L88.50,484.30" fill="#fff" stroke="#111" stroke-width="1.75"/>
<path d="M88.80,484.30 L88.80,475.00 L103.00,475.00 L103.00,484.30" fill="#fff" stroke="#2a1eff" stroke-width="1.75"/>
<path d="M118.70,484.30 L118.70,448.20 L132.60,448.20 L132.60,484.30" fill="#fff" stroke="#111" stroke-width="1.75"/>
<path d="M133.00,484.30 L133.00,448.20 L147.20,448.20 L147.20,484.30" fill="#fff" stroke="#2a1eff" stroke-width="1.75"/>
<circle cx="75.30" cy="474.00" r="1.85" fill="#111"/>
<circle cx="79.00" cy="472.80" r="1.85" fill="#111"/>
<circle cx="83.40" cy="474.30" r="1.85" fill="#111"/>
<circle cx="87.00" cy="473.30" r="1.85" fill="#111"/>
<circle cx="119.90" cy="448.50" r="1.85" fill="#111"/>
<circle cx="123.50" cy="446.30" r="1.85" fill="#111"/>
<circle cx="127.20" cy="448.80" r="1.85" fill="#111"/>
<circle cx="130.80" cy="447.00" r="1.85" fill="#111"/>
<circle cx="89.90" cy="474.30" r="1.85" fill="#2a1eff"/>
<circle cx="93.60" cy="474.70" r="1.85" fill="#2a1eff"/>
<circle cx="98.20" cy="475.20" r="1.85" fill="#2a1eff"/>
<circle cx="101.60" cy="474.30" r="1.85" fill="#2a1eff"/>
<circle cx="134.50" cy="447.70" r="1.85" fill="#2a1eff"/>
<circle cx="137.40" cy="447.70" r="1.85" fill="#2a1eff"/>
<circle cx="141.80" cy="447.70" r="1.85" fill="#2a1eff"/>
<circle cx="146.10" cy="447.70" r="1.85" fill="#2a1eff"/>
<line x1="66.20" y1="484.30" x2="155.50" y2="484.30" stroke="#111" stroke-width="1.6" />
<line x1="88.75" y1="484.30" x2="88.75" y2="488.60" stroke="#111" stroke-width="1.6" />
<line x1="133.00" y1="484.30" x2="133.00" y2="488.60" stroke="#111" stroke-width="1.6" />
<line x1="71.70" y1="492.40" x2="100.90" y2="492.40" stroke="#111" stroke-width="2.0" />
<line x1="119.00" y1="492.40" x2="148.60" y2="492.40" stroke="#111" stroke-width="2.0" />
<text x="54.30" y="506.51" font-size="11.2">Dox</text>
<text x="86.75" y="505.51" font-size="11.2" text-anchor="middle">-</text>
<text x="133.75" y="506.31" font-size="11.2" text-anchor="middle">+</text>
<line x1="77.50" y1="408.00" x2="100.00" y2="408.00" stroke="#111" stroke-width="1.8" />
<text x="71.05" y="401.82" font-size="9.0"><tspan font-style="italic">P</tspan> = 0.3832</text>
<line x1="122.50" y1="408.00" x2="145.00" y2="408.00" stroke="#111" stroke-width="1.8" />
<text x="121.05" y="401.82" font-size="9.0"><tspan font-style="italic">P</tspan> = 0.7338</text>
<line x1="77.50" y1="389.60" x2="121.25" y2="389.60" stroke="#111" stroke-width="1.8" />
<text x="75.55" y="384.22" font-size="9.0"><tspan font-style="italic">P</tspan> &lt; 0.0001</text>
<line x1="100.50" y1="372.50" x2="144.25" y2="372.50" stroke="#111" stroke-width="1.8" />
<text x="98.80" y="367.12" font-size="9.0"><tspan font-style="italic">P</tspan> &lt; 0.0001</text>
<text transform="translate(44.69,439.60) rotate(-90)" font-size="11.7" text-anchor="middle">Caspase 3/7 activity (AU)</text>
<line x1="231.00" y1="396.50" x2="231.00" y2="485.40" stroke="#111" stroke-width="1.6" />
<line x1="226.80" y1="397.20" x2="231.00" y2="397.20" stroke="#111" stroke-width="1.6" />
<text x="225.00" y="399.61" font-size="11.2" text-anchor="end">0.4</text>
<line x1="226.80" y1="414.70" x2="231.00" y2="414.70" stroke="#111" stroke-width="1.6" />
<text x="225.00" y="417.63" font-size="11.2" text-anchor="end">0.3</text>
<line x1="226.80" y1="432.20" x2="231.00" y2="432.20" stroke="#111" stroke-width="1.6" />
<text x="225.00" y="435.66" font-size="11.2" text-anchor="end">0.2</text>
<line x1="226.80" y1="449.70" x2="231.00" y2="449.70" stroke="#111" stroke-width="1.6" />
<text x="225.00" y="453.68" font-size="11.2" text-anchor="end">0.1</text>
<line x1="226.80" y1="467.20" x2="231.00" y2="467.20" stroke="#111" stroke-width="1.6" />
<text x="225.00" y="471.71" font-size="11.2" text-anchor="end">0</text>
<line x1="226.80" y1="484.70" x2="231.00" y2="484.70" stroke="#111" stroke-width="1.6" />
<text x="225.00" y="489.73" font-size="11.2" text-anchor="end">-0.1</text>
<line x1="230.70" y1="467.20" x2="319.10" y2="467.20" stroke="#111" stroke-width="1.6" />
<path d="M282.30,467.20 L282.30,455.80 L296.40,455.80 L296.40,467.20" fill="#fff" stroke="#111" stroke-width="1.75"/>
<path d="M296.70,467.20 L296.70,456.30 L311.20,456.30 L311.20,467.20" fill="#fff" stroke="#2a1eff" stroke-width="1.75"/>
<circle cx="240.00" cy="467.50" r="1.85" fill="#111"/>
<circle cx="243.80" cy="464.50" r="1.85" fill="#111"/>
<circle cx="247.70" cy="467.20" r="1.85" fill="#111"/>
<circle cx="251.20" cy="466.60" r="1.85" fill="#111"/>
<circle cx="284.10" cy="456.10" r="1.85" fill="#111"/>
<circle cx="289.30" cy="456.10" r="1.85" fill="#111"/>
<circle cx="294.60" cy="456.10" r="1.85" fill="#111"/>
<circle cx="289.30" cy="461.00" r="1.85" fill="#111"/>
<circle cx="254.70" cy="464.90" r="1.85" fill="#2a1eff"/>
<circle cx="254.70" cy="469.40" r="1.85" fill="#2a1eff"/>
<circle cx="260.40" cy="466.30" r="1.85" fill="#2a1eff"/>
<circle cx="265.70" cy="467.70" r="1.85" fill="#2a1eff"/>
<circle cx="298.50" cy="454.00" r="1.85" fill="#2a1eff"/>
<circle cx="298.50" cy="458.40" r="1.85" fill="#2a1eff"/>
<circle cx="304.20" cy="456.10" r="1.85" fill="#2a1eff"/>
<circle cx="309.50" cy="456.60" r="1.85" fill="#2a1eff"/>
<line x1="230.20" y1="484.70" x2="319.00" y2="484.70" stroke="#111" stroke-width="1.6" />
<line x1="252.60" y1="484.70" x2="252.60" y2="488.60" stroke="#111" stroke-width="1.6" />
<line x1="296.40" y1="484.70" x2="296.40" y2="488.60" stroke="#111" stroke-width="1.6" />
<line x1="235.90" y1="492.60" x2="265.70" y2="492.60" stroke="#111" stroke-width="2.0" />
<line x1="283.20" y1="492.60" x2="312.50" y2="492.60" stroke="#111" stroke-width="2.0" />
<text x="218.20" y="506.31" font-size="11.2">Dox</text>
<text x="250.80" y="505.31" font-size="11.2" text-anchor="middle">-</text>
<text x="298.10" y="506.31" font-size="11.2" text-anchor="middle">+</text>
<line x1="245.00" y1="408.00" x2="267.50" y2="408.00" stroke="#111" stroke-width="1.8" />
<text x="238.80" y="401.82" font-size="9.0"><tspan font-style="italic">P</tspan> = 0.9652</text>
<line x1="290.50" y1="408.00" x2="313.00" y2="408.00" stroke="#111" stroke-width="1.8" />
<text x="288.05" y="401.82" font-size="9.0"><tspan font-style="italic">P</tspan> = 0.9462</text>
<line x1="245.00" y1="390.40" x2="288.75" y2="390.40" stroke="#111" stroke-width="1.8" />
<text x="243.80" y="385.02" font-size="9.0"><tspan font-style="italic">P</tspan> &lt; 0.0001</text>
<line x1="268.00" y1="372.50" x2="312.00" y2="372.50" stroke="#111" stroke-width="1.8" />
<text x="266.80" y="367.12" font-size="9.0"><tspan font-style="italic">P</tspan> &lt; 0.0001</text>
<text transform="translate(199.39,440.60) rotate(-90)" font-size="11.7" text-anchor="middle">LDH activity (AU)</text>
<line x1="401.90" y1="398.80" x2="401.90" y2="487.00" stroke="#111" stroke-width="1.6" />
<line x1="397.70" y1="399.50" x2="401.90" y2="399.50" stroke="#111" stroke-width="1.6" />
<text x="396.70" y="403.51" font-size="11.2" text-anchor="end">1.5</text>
<line x1="397.70" y1="428.43" x2="401.90" y2="428.43" stroke="#111" stroke-width="1.6" />
<text x="396.70" y="432.44" font-size="11.2" text-anchor="end">1.0</text>
<line x1="397.70" y1="457.37" x2="401.90" y2="457.37" stroke="#111" stroke-width="1.6" />
<text x="396.70" y="461.38" font-size="11.2" text-anchor="end">0.5</text>
<line x1="397.70" y1="486.30" x2="401.90" y2="486.30" stroke="#111" stroke-width="1.6" />
<text x="396.70" y="490.31" font-size="11.2" text-anchor="end">0</text>
<path d="M409.40,486.30 L409.40,428.70 L423.40,428.70 L423.40,486.30" fill="#fff" stroke="#111" stroke-width="1.75"/>
<path d="M423.80,486.30 L423.80,429.90 L437.50,429.90 L437.50,486.30" fill="#fff" stroke="#2a1eff" stroke-width="1.75"/>
<path d="M453.60,486.30 L453.60,435.70 L467.10,435.70 L467.10,486.30" fill="#fff" stroke="#111" stroke-width="1.75"/>
<path d="M467.60,486.30 L467.60,436.00 L481.30,436.00 L481.30,486.30" fill="#fff" stroke="#2a1eff" stroke-width="1.75"/>
<circle cx="410.70" cy="428.70" r="1.85" fill="#111"/>
<circle cx="414.70" cy="427.30" r="1.85" fill="#111"/>
<circle cx="418.20" cy="428.70" r="1.85" fill="#111"/>
<circle cx="422.00" cy="427.60" r="1.85" fill="#111"/>
<circle cx="455.00" cy="436.90" r="1.85" fill="#111"/>
<circle cx="458.80" cy="433.90" r="1.85" fill="#111"/>
<circle cx="462.30" cy="435.10" r="1.85" fill="#111"/>
<circle cx="466.20" cy="435.10" r="1.85" fill="#111"/>
<circle cx="425.20" cy="429.00" r="1.85" fill="#2a1eff"/>
<circle cx="429.00" cy="428.70" r="1.85" fill="#2a1eff"/>
<circle cx="432.60" cy="429.90" r="1.85" fill="#2a1eff"/>
<circle cx="436.00" cy="429.00" r="1.85" fill="#2a1eff"/>
<circle cx="468.50" cy="435.70" r="1.85" fill="#2a1eff"/>
<circle cx="472.50" cy="435.70" r="1.85" fill="#2a1eff"/>
<circle cx="476.40" cy="435.70" r="1.85" fill="#2a1eff"/>
<circle cx="480.20" cy="435.70" r="1.85" fill="#2a1eff"/>
<line x1="401.10" y1="486.30" x2="489.80" y2="486.30" stroke="#111" stroke-width="1.6" />
<line x1="423.40" y1="486.30" x2="423.40" y2="490.70" stroke="#111" stroke-width="1.6" />
<line x1="467.10" y1="486.30" x2="467.10" y2="490.70" stroke="#111" stroke-width="1.6" />
<line x1="407.20" y1="494.20" x2="436.40" y2="494.20" stroke="#111" stroke-width="2.0" />
<line x1="454.50" y1="494.20" x2="483.70" y2="494.20" stroke="#111" stroke-width="2.0" />
<text x="389.40" y="508.01" font-size="11.2">Dox</text>
<text x="422.60" y="507.21" font-size="11.2" text-anchor="middle">-</text>
<text x="469.30" y="508.01" font-size="11.2" text-anchor="middle">+</text>
<line x1="410.50" y1="407.00" x2="433.00" y2="407.00" stroke="#111" stroke-width="1.8" />
<text x="404.30" y="400.82" font-size="9.0"><tspan font-style="italic">P</tspan> = 0.0639</text>
<line x1="456.25" y1="407.00" x2="478.00" y2="407.00" stroke="#111" stroke-width="1.8" />
<text x="454.30" y="400.82" font-size="9.0"><tspan font-style="italic">P</tspan> = 0.9499</text>
<line x1="410.00" y1="388.80" x2="454.25" y2="388.80" stroke="#111" stroke-width="1.8" />
<text x="408.80" y="383.42" font-size="9.0"><tspan font-style="italic">P</tspan> &lt; 0.0001</text>
<line x1="433.25" y1="371.30" x2="477.00" y2="371.30" stroke="#111" stroke-width="1.8" />
<text x="431.80" y="365.92" font-size="9.0"><tspan font-style="italic">P</tspan> &lt; 0.0001</text>
<text transform="translate(375.89,439.20) rotate(-90)" font-size="11.7" text-anchor="middle">Cell viability (AU)</text>
<rect x="514.90" y="391.90" width="70.10" height="26.40" fill="#fff" stroke="#111" stroke-width="1.2" />
<circle cx="522.40" cy="399.40" r="1.8" fill="#111"/>
<text x="526.20" y="402.41" font-size="8.4">Control siRNA</text>
<circle cx="522.40" cy="410.20" r="1.8" fill="#2a1eff"/>
<text x="526.20" y="413.21" font-size="8.4"><tspan font-style="italic">Bad</tspan> siRNA</text>
<text x="11.80" y="531.94" font-size="20.5" font-weight="bold">G</text>
<line x1="68.00" y1="553.05" x2="68.00" y2="643.60" stroke="#111" stroke-width="1.6" />
<line x1="63.80" y1="642.90" x2="68.00" y2="642.90" stroke="#111" stroke-width="1.6" />
<text x="62.80" y="646.91" font-size="11.2" text-anchor="end">0</text>
<line x1="63.80" y1="620.61" x2="68.00" y2="620.61" stroke="#111" stroke-width="1.6" />
<text x="62.80" y="624.62" font-size="11.2" text-anchor="end">2</text>
<line x1="63.80" y1="598.33" x2="68.00" y2="598.33" stroke="#111" stroke-width="1.6" />
<text x="62.80" y="602.33" font-size="11.2" text-anchor="end">4</text>
<line x1="63.80" y1="576.04" x2="68.00" y2="576.04" stroke="#111" stroke-width="1.6" />
<text x="62.80" y="580.05" font-size="11.2" text-anchor="end">6</text>
<line x1="63.80" y1="553.75" x2="68.00" y2="553.75" stroke="#111" stroke-width="1.6" />
<text x="62.80" y="557.76" font-size="11.2" text-anchor="end">8</text>
<path d="M75.70,642.90 L75.70,633.30 L89.70,633.30 L89.70,642.90" fill="#fff" stroke="#111" stroke-width="1.75"/>
<path d="M90.20,642.90 L90.20,632.90 L104.60,632.90 L104.60,642.90" fill="#fff" stroke="#f466f4" stroke-width="1.75"/>
<path d="M120.90,642.90 L120.90,625.40 L134.70,625.40 L134.70,642.90" fill="#fff" stroke="#111" stroke-width="1.75"/>
<path d="M135.60,642.90 L135.60,623.70 L150.10,623.70 L150.10,642.90" fill="#fff" stroke="#f466f4" stroke-width="1.75"/>
<circle cx="76.50" cy="632.90" r="1.85" fill="#111"/>
<circle cx="80.90" cy="631.20" r="1.85" fill="#111"/>
<circle cx="84.40" cy="632.40" r="1.85" fill="#111"/>
<circle cx="88.40" cy="632.40" r="1.85" fill="#111"/>
<circle cx="122.10" cy="626.30" r="1.85" fill="#111"/>
<circle cx="125.90" cy="622.80" r="1.85" fill="#111"/>
<circle cx="130.00" cy="624.50" r="1.85" fill="#111"/>
<circle cx="134.00" cy="624.50" r="1.85" fill="#111"/>
<circle cx="91.40" cy="632.40" r="1.85" fill="#f466f4"/>
<circle cx="95.80" cy="632.40" r="1.85" fill="#f466f4"/>
<circle cx="100.20" cy="633.30" r="1.85" fill="#f466f4"/>
<circle cx="103.70" cy="632.90" r="1.85" fill="#f466f4"/>
<circle cx="137.00" cy="623.30" r="1.85" fill="#f466f4"/>
<circle cx="140.50" cy="623.30" r="1.85" fill="#f466f4"/>
<circle cx="144.90" cy="623.70" r="1.85" fill="#f466f4"/>
<circle cx="149.20" cy="623.30" r="1.85" fill="#f466f4"/>
<line x1="67.20" y1="642.90" x2="158.50" y2="642.90" stroke="#111" stroke-width="1.6" />
<line x1="90.00" y1="642.90" x2="90.00" y2="647.30" stroke="#111" stroke-width="1.6" />
<line x1="135.20" y1="642.90" x2="135.20" y2="647.30" stroke="#111" stroke-width="1.6" />
<line x1="72.20" y1="649.00" x2="102.00" y2="649.00" stroke="#111" stroke-width="2.0" />
<line x1="120.30" y1="649.00" x2="149.80" y2="649.00" stroke="#111" stroke-width="2.0" />
<text x="55.70" y="662.71" font-size="11.2">Dox</text>
<text x="87.90" y="662.01" font-size="11.2" text-anchor="middle">-</text>
<text x="134.70" y="662.51" font-size="11.2" text-anchor="middle">+</text>
<line x1="77.00" y1="560.75" x2="98.75" y2="560.75" stroke="#111" stroke-width="1.8" />
<text x="70.55" y="554.57" font-size="9.0"><tspan font-style="italic">P</tspan> = 0.6250</text>
<line x1="122.00" y1="560.75" x2="144.50" y2="560.75" stroke="#111" stroke-width="1.8" />
<text x="120.05" y="554.57" font-size="9.0"><tspan font-style="italic">P</tspan> = 0.7729</text>
<line x1="76.25" y1="542.00" x2="120.00" y2="542.00" stroke="#111" stroke-width="1.8" />
<text x="74.30" y="536.62" font-size="9.0"><tspan font-style="italic">P</tspan> &lt; 0.0001</text>
<line x1="99.50" y1="524.50" x2="143.25" y2="524.50" stroke="#111" stroke-width="1.8" />
<text x="98.05" y="519.12" font-size="9.0"><tspan font-style="italic">P</tspan> &lt; 0.0001</text>
<text transform="translate(46.39,596.75) rotate(-90)" font-size="11.7" text-anchor="middle">Caspase 3/7 activity (AU)</text>
<line x1="230.10" y1="553.80" x2="230.10" y2="643.00" stroke="#111" stroke-width="1.6" />
<line x1="225.90" y1="554.50" x2="230.10" y2="554.50" stroke="#111" stroke-width="1.6" />
<text x="224.10" y="556.37" font-size="11.2" text-anchor="end">0.4</text>
<line x1="225.90" y1="572.07" x2="230.10" y2="572.07" stroke="#111" stroke-width="1.6" />
<text x="224.10" y="574.46" font-size="11.2" text-anchor="end">0.3</text>
<line x1="225.90" y1="589.65" x2="230.10" y2="589.65" stroke="#111" stroke-width="1.6" />
<text x="224.10" y="592.54" font-size="11.2" text-anchor="end">0.2</text>
<line x1="225.90" y1="607.22" x2="230.10" y2="607.22" stroke="#111" stroke-width="1.6" />
<text x="224.10" y="610.62" font-size="11.2" text-anchor="end">0.1</text>
<line x1="225.90" y1="624.80" x2="230.10" y2="624.80" stroke="#111" stroke-width="1.6" />
<text x="224.10" y="628.71" font-size="11.2" text-anchor="end">0</text>
<line x1="225.90" y1="642.38" x2="230.10" y2="642.38" stroke="#111" stroke-width="1.6" />
<text x="224.10" y="646.79" font-size="11.2" text-anchor="end">-0.1</text>
<line x1="229.50" y1="624.80" x2="317.70" y2="624.80" stroke="#111" stroke-width="1.6" />
<path d="M281.50,624.80 L281.50,618.30 L295.50,618.30 L295.50,624.80" fill="#fff" stroke="#111" stroke-width="1.75"/>
<path d="M296.00,624.80 L296.00,612.20 L310.40,612.20 L310.40,624.80" fill="#fff" stroke="#f466f4" stroke-width="1.75"/>
<line x1="288.20" y1="615.30" x2="288.20" y2="621.30" stroke="#555" stroke-width="0.8" />
<line x1="286.00" y1="615.30" x2="290.40" y2="615.30" stroke="#555" stroke-width="0.8" />
<line x1="286.00" y1="621.30" x2="290.40" y2="621.30" stroke="#555" stroke-width="0.8" />
<line x1="303.20" y1="609.80" x2="303.20" y2="614.60" stroke="#f466f4" stroke-width="0.8" />
<line x1="301.00" y1="609.80" x2="305.40" y2="609.80" stroke="#f466f4" stroke-width="0.8" />
<line x1="301.00" y1="614.60" x2="305.40" y2="614.60" stroke="#f466f4" stroke-width="0.8" />
<circle cx="238.90" cy="624.80" r="1.85" fill="#111"/>
<circle cx="242.40" cy="623.00" r="1.85" fill="#111"/>
<circle cx="245.90" cy="623.90" r="1.85" fill="#111"/>
<circle cx="250.50" cy="623.60" r="1.85" fill="#111"/>
<circle cx="285.00" cy="616.90" r="1.85" fill="#111"/>
<circle cx="285.00" cy="621.30" r="1.85" fill="#111"/>
<circle cx="291.10" cy="615.10" r="1.85" fill="#111"/>
<circle cx="291.10" cy="619.50" r="1.85" fill="#111"/>
<circle cx="253.40" cy="624.80" r="1.85" fill="#f466f4"/>
<circle cx="256.90" cy="623.00" r="1.85" fill="#f466f4"/>
<circle cx="261.00" cy="623.00" r="1.85" fill="#f466f4"/>
<circle cx="265.20" cy="623.00" r="1.85" fill="#f466f4"/>
<circle cx="298.10" cy="609.90" r="1.85" fill="#f466f4"/>
<circle cx="302.50" cy="611.10" r="1.85" fill="#f466f4"/>
<circle cx="305.10" cy="611.60" r="1.85" fill="#f466f4"/>
<circle cx="309.00" cy="612.50" r="1.85" fill="#f466f4"/>
<line x1="229.30" y1="642.30" x2="317.00" y2="642.30" stroke="#111" stroke-width="1.6" />
<line x1="251.70" y1="642.30" x2="251.70" y2="646.70" stroke="#111" stroke-width="1.6" />
<line x1="296.00" y1="642.30" x2="296.00" y2="646.70" stroke="#111" stroke-width="1.6" />
<line x1="236.30" y1="651.40" x2="265.70" y2="651.40" stroke="#111" stroke-width="2.0" />
<line x1="284.10" y1="651.40" x2="313.50" y2="651.40" stroke="#111" stroke-width="2.0" />
<text x="218.20" y="665.21" font-size="11.2">Dox</text>
<text x="251.30" y="664.51" font-size="11.2" text-anchor="middle">-</text>
<text x="298.10" y="665.21" font-size="11.2" text-anchor="middle">+</text>
<line x1="240.00" y1="563.00" x2="262.50" y2="563.00" stroke="#111" stroke-width="1.8" />
<text x="234.30" y="556.82" font-size="9.0"><tspan font-style="italic">P</tspan> = 0.9994</text>
<line x1="285.75" y1="563.00" x2="308.00" y2="563.00" stroke="#111" stroke-width="1.8" />
<text x="283.05" y="556.82" font-size="9.0"><tspan font-style="italic">P</tspan> = 0.0005</text>
<line x1="239.50" y1="545.00" x2="283.75" y2="545.00" stroke="#111" stroke-width="1.8" />
<text x="238.05" y="539.62" font-size="9.0"><tspan font-style="italic">P</tspan> = 0.0008</text>
<line x1="263.00" y1="527.50" x2="306.75" y2="527.50" stroke="#111" stroke-width="1.8" />
<text x="261.30" y="522.12" font-size="9.0"><tspan font-style="italic">P</tspan> &lt; 0.0001</text>
<text transform="translate(200.19,596.75) rotate(-90)" font-size="11.7" text-anchor="middle">LDH activity (AU)</text>
<line x1="405.20" y1="551.80" x2="405.20" y2="641.10" stroke="#111" stroke-width="1.6" />
<line x1="401.00" y1="552.50" x2="405.20" y2="552.50" stroke="#111" stroke-width="1.6" />
<text x="400.00" y="556.51" font-size="11.2" text-anchor="end">1.5</text>
<line x1="401.00" y1="581.80" x2="405.20" y2="581.80" stroke="#111" stroke-width="1.6" />
<text x="400.00" y="585.81" font-size="11.2" text-anchor="end">1.0</text>
<line x1="401.00" y1="611.10" x2="405.20" y2="611.10" stroke="#111" stroke-width="1.6" />
<text x="400.00" y="615.11" font-size="11.2" text-anchor="end">0.5</text>
<line x1="401.00" y1="640.40" x2="405.20" y2="640.40" stroke="#111" stroke-width="1.6" />
<text x="400.00" y="644.41" font-size="11.2" text-anchor="end">0</text>
<path d="M412.50,640.40 L412.50,582.30 L426.70,582.30 L426.70,640.40" fill="#fff" stroke="#111" stroke-width="1.75"/>
<path d="M427.00,640.40 L427.00,587.20 L441.40,587.20 L441.40,640.40" fill="#fff" stroke="#f466f4" stroke-width="1.75"/>
<path d="M456.50,640.40 L456.50,593.70 L470.80,593.70 L470.80,640.40" fill="#fff" stroke="#111" stroke-width="1.75"/>
<path d="M471.40,640.40 L471.40,597.20 L485.40,597.20 L485.40,640.40" fill="#fff" stroke="#f466f4" stroke-width="1.75"/>
<line x1="434.20" y1="584.20" x2="434.20" y2="590.00" stroke="#f466f4" stroke-width="0.8" />
<line x1="432.00" y1="584.20" x2="436.40" y2="584.20" stroke="#f466f4" stroke-width="0.8" />
<line x1="432.00" y1="590.00" x2="436.40" y2="590.00" stroke="#f466f4" stroke-width="0.8" />
<line x1="478.40" y1="593.00" x2="478.40" y2="600.50" stroke="#f466f4" stroke-width="0.8" />
<line x1="476.20" y1="593.00" x2="480.60" y2="593.00" stroke="#f466f4" stroke-width="0.8" />
<line x1="476.20" y1="600.50" x2="480.60" y2="600.50" stroke="#f466f4" stroke-width="0.8" />
<circle cx="413.90" cy="582.60" r="1.85" fill="#111"/>
<circle cx="417.90" cy="581.40" r="1.85" fill="#111"/>
<circle cx="421.40" cy="582.30" r="1.85" fill="#111"/>
<circle cx="425.30" cy="581.70" r="1.85" fill="#111"/>
<circle cx="457.70" cy="593.70" r="1.85" fill="#111"/>
<circle cx="461.70" cy="591.50" r="1.85" fill="#111"/>
<circle cx="465.60" cy="592.80" r="1.85" fill="#111"/>
<circle cx="469.40" cy="592.20" r="1.85" fill="#111"/>
<circle cx="428.80" cy="583.70" r="1.85" fill="#f466f4"/>
<circle cx="432.30" cy="585.80" r="1.85" fill="#f466f4"/>
<circle cx="435.80" cy="587.20" r="1.85" fill="#f466f4"/>
<circle cx="440.20" cy="586.60" r="1.85" fill="#f466f4"/>
<circle cx="472.60" cy="593.30" r="1.85" fill="#f466f4"/>
<circle cx="477.90" cy="595.90" r="1.85" fill="#f466f4"/>
<circle cx="478.70" cy="601.20" r="1.85" fill="#f466f4"/>
<circle cx="484.00" cy="594.50" r="1.85" fill="#f466f4"/>
<line x1="404.40" y1="640.40" x2="493.60" y2="640.40" stroke="#111" stroke-width="1.6" />
<line x1="426.70" y1="640.40" x2="426.70" y2="644.50" stroke="#111" stroke-width="1.6" />
<line x1="470.80" y1="640.40" x2="470.80" y2="644.50" stroke="#111" stroke-width="1.6" />
<line x1="410.40" y1="650.00" x2="439.30" y2="650.00" stroke="#111" stroke-width="2.0" />
<line x1="457.70" y1="650.00" x2="487.10" y2="650.00" stroke="#111" stroke-width="2.0" />
<text x="392.20" y="663.31" font-size="11.2">Dox</text>
<text x="425.30" y="662.81" font-size="11.2" text-anchor="middle">-</text>
<text x="471.40" y="663.31" font-size="11.2" text-anchor="middle">+</text>
<line x1="416.25" y1="566.25" x2="438.25" y2="566.25" stroke="#111" stroke-width="1.8" />
<text x="409.30" y="560.07" font-size="9.0"><tspan font-style="italic">P</tspan> = 0.0331</text>
<line x1="461.25" y1="566.25" x2="483.00" y2="566.25" stroke="#111" stroke-width="1.8" />
<text x="458.80" y="560.07" font-size="9.0"><tspan font-style="italic">P</tspan> = 0.0690</text>
<line x1="415.50" y1="548.00" x2="459.50" y2="548.00" stroke="#111" stroke-width="1.8" />
<text x="414.30" y="542.62" font-size="9.0"><tspan font-style="italic">P</tspan> &lt; 0.0001</text>
<line x1="438.00" y1="530.50" x2="482.50" y2="530.50" stroke="#111" stroke-width="1.8" />
<text x="436.80" y="525.12" font-size="9.0"><tspan font-style="italic">P</tspan> &lt; 0.0001</text>
<text transform="translate(377.39,596.50) rotate(-90)" font-size="11.7" text-anchor="middle">Cell viability (AU)</text>
<rect x="515.50" y="555.75" width="69.50" height="26.25" fill="#fff" stroke="#111" stroke-width="1.2" />
<circle cx="522.50" cy="563.75" r="1.8" fill="#111"/>
<text x="526.25" y="566.76" font-size="8.4">Control siRNA</text>
<circle cx="522.50" cy="574.25" r="1.8" fill="#f466f4"/>
<text x="526.25" y="577.26" font-size="8.4"><tspan font-style="italic">Bmf</tspan> siRNA</text>
<text x="13.20" y="694.84" font-size="20.5" font-weight="bold">H</text>
<line x1="66.25" y1="706.30" x2="66.25" y2="800.00" stroke="#111" stroke-width="1.6" />
<line x1="62.45" y1="707.00" x2="66.25" y2="707.00" stroke="#111" stroke-width="1.6" />
<text x="61.65" y="709.11" font-size="7.0" text-anchor="end" font-weight="bold" fill="#222" letter-spacing="-0.1">1.5</text>
<line x1="62.45" y1="738.00" x2="66.25" y2="738.00" stroke="#111" stroke-width="1.6" />
<text x="61.65" y="740.11" font-size="7.0" text-anchor="end" font-weight="bold" fill="#222" letter-spacing="-0.1">1.0</text>
<line x1="62.45" y1="769.00" x2="66.25" y2="769.00" stroke="#111" stroke-width="1.6" />
<text x="61.65" y="771.11" font-size="7.0" text-anchor="end" font-weight="bold" fill="#222" letter-spacing="-0.1">0.5</text>
<line x1="62.45" y1="800.00" x2="66.25" y2="800.00" stroke="#111" stroke-width="1.6" />
<text x="61.65" y="802.11" font-size="7.0" text-anchor="end" font-weight="bold" fill="#222" letter-spacing="-0.1">0.0</text>
<path d="M76.25,800.00 L76.25,738.00 L93.00,738.00 L93.00,800.00" fill="#fff" stroke="#111" stroke-width="1.9"/>
<path d="M102.50,800.00 L102.50,796.30 L119.25,796.30 L119.25,800.00" fill="#fff" stroke="#111" stroke-width="1.9"/>
<line x1="84.50" y1="729.30" x2="84.50" y2="747.00" stroke="#333" stroke-width="0.9" />
<line x1="81.00" y1="729.30" x2="88.00" y2="729.30" stroke="#333" stroke-width="0.9" />
<line x1="81.00" y1="747.00" x2="88.00" y2="747.00" stroke="#333" stroke-width="0.9" />
<circle cx="85.00" cy="725.00" r="2.0" fill="#111"/>
<circle cx="85.00" cy="737.50" r="2.0" fill="#111"/>
<circle cx="80.50" cy="745.00" r="2.0" fill="#111"/>
<circle cx="88.00" cy="744.50" r="2.0" fill="#111"/>
<circle cx="104.30" cy="794.20" r="2.0" fill="#111"/>
<circle cx="108.60" cy="794.20" r="2.0" fill="#111"/>
<circle cx="112.60" cy="794.20" r="2.0" fill="#111"/>
<circle cx="116.80" cy="794.20" r="2.0" fill="#111"/>
<line x1="65.45" y1="800.00" x2="128.75" y2="800.00" stroke="#111" stroke-width="1.6" />
<line x1="84.50" y1="800.00" x2="84.50" y2="804.20" stroke="#111" stroke-width="1.6" />
<line x1="111.25" y1="800.00" x2="111.25" y2="804.20" stroke="#111" stroke-width="1.6" />
<text x="56.00" y="818.76" font-size="10.5">Control si</text>
<text x="104.80" y="818.76" font-size="10.5"><tspan font-style="italic">Bak</tspan> si</text>
<line x1="80.50" y1="703.75" x2="120.00" y2="703.75" stroke="#111" stroke-width="1.9" />
<text x="76.80" y="699.17" font-size="9.0"><tspan font-style="italic">P</tspan> &lt; 0.0001</text>
<text transform="translate(24.20,751.60) rotate(-90)" font-size="11.6" text-anchor="middle"><tspan font-style="italic">Bak</tspan> mRNA</text>
<text transform="translate(38.50,751.80) rotate(-90)" font-size="11.6" text-anchor="middle">(fold change)</text>
<text x="175.30" y="740.62" font-size="11.8" text-anchor="end">Bak</text>
<text x="174.80" y="767.42" font-size="11.8" text-anchor="end">β-actin</text>
<text x="261.00" y="720.22" font-size="9">(kDa)</text>
<svg x="180.00" y="726.25" width="74.50" height="18.25" viewBox="180.00 726.25 74.50 18.25" overflow="hidden">
<rect x="180.00" y="726.25" width="74.50" height="18.25" fill="#f5f5f5"/>
<rect x="184.00" y="733.10" width="30.00" height="7.00" rx="3.50" fill="#000" opacity="1.0" filter="url(#b07)"/>
<rect x="218.00" y="734.50" width="32.00" height="5.00" rx="2.50" fill="#e4e4e4" opacity="1.0" filter="url(#b15)"/>
</svg>
<svg x="180.00" y="752.00" width="75.00" height="18.75" viewBox="180.00 752.00 75.00 18.75" overflow="hidden">
<rect x="180.00" y="752.00" width="75.00" height="18.75" fill="#f6f6f6"/>
<rect x="183.80" y="758.50" width="30.00" height="6.40" rx="3.20" fill="#000" opacity="1.0" filter="url(#b07)"/>
<rect x="219.50" y="758.70" width="31.00" height="6.40" rx="3.20" fill="#000" opacity="1.0" filter="url(#b07)"/>
</svg>
<rect x="180.00" y="726.25" width="74.50" height="18.25" fill="none" stroke="#1a1a1a" stroke-width="1.2" />
<rect x="180.00" y="752.00" width="75.00" height="18.75" fill="none" stroke="#1a1a1a" stroke-width="1.2" />
<line x1="263.00" y1="736.25" x2="270.00" y2="736.25" stroke="#111" stroke-width="1.3" />
<text x="273.60" y="739.65" font-size="9.5">25</text>
<line x1="263.00" y1="768.75" x2="270.00" y2="768.75" stroke="#111" stroke-width="1.3" />
<text x="273.60" y="772.15" font-size="9.5">37</text>
<line x1="183.25" y1="783.00" x2="213.00" y2="783.00" stroke="#111" stroke-width="2" />
<line x1="221.25" y1="783.00" x2="250.75" y2="783.00" stroke="#111" stroke-width="2" />
<text x="175.00" y="802.66" font-size="10.5">Control si</text>
<text x="228.20" y="802.66" font-size="10.5"><tspan font-style="italic">Bak</tspan> si</text>
<text x="332.00" y="696.74" font-size="20.5" font-weight="bold">I</text>
<line x1="394.50" y1="710.55" x2="394.50" y2="804.25" stroke="#111" stroke-width="1.6" />
<line x1="390.70" y1="711.25" x2="394.50" y2="711.25" stroke="#111" stroke-width="1.6" />
<text x="389.90" y="713.36" font-size="7.0" text-anchor="end" font-weight="bold" fill="#222" letter-spacing="-0.1">1.5</text>
<line x1="390.70" y1="742.25" x2="394.50" y2="742.25" stroke="#111" stroke-width="1.6" />
<text x="389.90" y="744.36" font-size="7.0" text-anchor="end" font-weight="bold" fill="#222" letter-spacing="-0.1">1.0</text>
<line x1="390.70" y1="773.25" x2="394.50" y2="773.25" stroke="#111" stroke-width="1.6" />
<text x="389.90" y="775.36" font-size="7.0" text-anchor="end" font-weight="bold" fill="#222" letter-spacing="-0.1">0.5</text>
<line x1="390.70" y1="804.25" x2="394.50" y2="804.25" stroke="#111" stroke-width="1.6" />
<text x="389.90" y="806.36" font-size="7.0" text-anchor="end" font-weight="bold" fill="#222" letter-spacing="-0.1">0.0</text>
<path d="M403.75,804.25 L403.75,742.50 L420.75,742.50 L420.75,804.25" fill="#fff" stroke="#111" stroke-width="1.9"/>
<path d="M430.00,804.25 L430.00,801.30 L447.00,801.30 L447.00,804.25" fill="#fff" stroke="#111" stroke-width="1.9"/>
<line x1="412.00" y1="730.00" x2="412.00" y2="754.50" stroke="#999" stroke-width="0.9" />
<line x1="408.50" y1="730.00" x2="415.50" y2="730.00" stroke="#999" stroke-width="0.9" />
<line x1="408.50" y1="754.50" x2="415.50" y2="754.50" stroke="#999" stroke-width="0.9" />
<circle cx="408.00" cy="733.75" r="2.0" fill="#111"/>
<circle cx="415.50" cy="733.75" r="2.0" fill="#111"/>
<circle cx="412.00" cy="742.50" r="2.0" fill="#111"/>
<circle cx="412.00" cy="759.50" r="2.0" fill="#111"/>
<circle cx="432.40" cy="800.00" r="2.0" fill="#111"/>
<circle cx="436.40" cy="800.00" r="2.0" fill="#111"/>
<circle cx="440.40" cy="800.00" r="2.0" fill="#111"/>
<circle cx="444.40" cy="800.00" r="2.0" fill="#111"/>
<line x1="393.70" y1="804.25" x2="457.00" y2="804.25" stroke="#111" stroke-width="1.6" />
<line x1="412.00" y1="804.25" x2="412.00" y2="808.45" stroke="#111" stroke-width="1.6" />
<line x1="438.75" y1="804.25" x2="438.75" y2="808.45" stroke="#111" stroke-width="1.6" />
<text x="385.30" y="822.51" font-size="10.5">Control si</text>
<text x="434.10" y="822.51" font-size="10.5"><tspan font-style="italic">Bax</tspan> si</text>
<line x1="412.00" y1="712.50" x2="450.50" y2="712.50" stroke="#111" stroke-width="1.9" />
<text x="407.30" y="707.92" font-size="9.0"><tspan font-style="italic">P</tspan> &lt; 0.0001</text>
<text transform="translate(349.20,755.75) rotate(-90)" font-size="11.6" text-anchor="middle"><tspan font-style="italic">Bax</tspan> mRNA</text>
<text transform="translate(363.50,755.70) rotate(-90)" font-size="11.6" text-anchor="middle">(fold change)</text>
<text x="486.50" y="739.42" font-size="11.8" text-anchor="end">Bax</text>
<text x="486.50" y="764.82" font-size="11.8" text-anchor="end">β-actin</text>
<text x="572.30" y="716.97" font-size="9">(kDa)</text>
<svg x="493.00" y="724.50" width="75.00" height="21.75" viewBox="493.00 724.50 75.00 21.75" overflow="hidden">
<rect x="493.00" y="724.50" width="75.00" height="21.75" fill="#f6f6f6"/>
<rect x="497.30" y="731.30" width="33.20" height="9.80" rx="4.90" fill="#000" opacity="1.0" filter="url(#b07)"/>
<rect x="533.00" y="734.00" width="27.00" height="6.00" rx="3.00" fill="#ececec" opacity="1.0" filter="url(#b15)"/>
</svg>
<svg x="493.00" y="751.75" width="75.00" height="15.75" viewBox="493.00 751.75 75.00 15.75" overflow="hidden">
<rect x="493.00" y="751.75" width="75.00" height="15.75" fill="#f6f6f6"/>
<rect x="499.00" y="757.20" width="27.50" height="5.60" rx="2.80" fill="#000" opacity="1.0" filter="url(#b07)"/>
<rect x="533.30" y="757.40" width="28.50" height="5.60" rx="2.80" fill="#000" opacity="1.0" filter="url(#b07)"/>
</svg>
<rect x="493.00" y="724.50" width="75.00" height="21.75" fill="none" stroke="#1a1a1a" stroke-width="1.2" />
<rect x="493.00" y="751.75" width="75.00" height="15.75" fill="none" stroke="#1a1a1a" stroke-width="1.2" />
<line x1="575.00" y1="729.25" x2="582.00" y2="729.25" stroke="#111" stroke-width="1.3" />
<text x="585.00" y="732.65" font-size="9.5">25</text>
<line x1="575.00" y1="767.00" x2="582.00" y2="767.00" stroke="#111" stroke-width="1.3" />
<text x="585.00" y="770.40" font-size="9.5">37</text>
<line x1="495.00" y1="781.75" x2="524.50" y2="781.75" stroke="#111" stroke-width="2" />
<line x1="532.50" y1="781.75" x2="562.00" y2="781.75" stroke="#111" stroke-width="2" />
<text x="486.10" y="801.36" font-size="10.5">Control si</text>
<text x="539.80" y="801.36" font-size="10.5"><tspan font-style="italic">Bax</tspan> si</text>
<text x="9.00" y="852.74" font-size="20.5" font-weight="bold">J</text>
<line x1="63.30" y1="869.80" x2="63.30" y2="958.30" stroke="#111" stroke-width="1.6" />
<line x1="59.10" y1="957.60" x2="63.30" y2="957.60" stroke="#111" stroke-width="1.6" />
<text x="58.10" y="961.61" font-size="11.2" text-anchor="end">0</text>
<line x1="59.10" y1="935.83" x2="63.30" y2="935.83" stroke="#111" stroke-width="1.6" />
<text x="58.10" y="939.83" font-size="11.2" text-anchor="end">2</text>
<line x1="59.10" y1="914.05" x2="63.30" y2="914.05" stroke="#111" stroke-width="1.6" />
<text x="58.10" y="918.06" font-size="11.2" text-anchor="end">4</text>
<line x1="59.10" y1="892.27" x2="63.30" y2="892.27" stroke="#111" stroke-width="1.6" />
<text x="58.10" y="896.28" font-size="11.2" text-anchor="end">6</text>
<line x1="59.10" y1="870.50" x2="63.30" y2="870.50" stroke="#111" stroke-width="1.6" />
<text x="58.10" y="874.51" font-size="11.2" text-anchor="end">8</text>
<path d="M70.70,957.60 L70.70,947.40 L83.80,947.40 L83.80,957.60" fill="#fff" stroke="#111" stroke-width="1.75"/>
<path d="M84.70,957.60 L84.70,949.70 L98.30,949.70 L98.30,957.60" fill="#fff" stroke="#cc38ff" stroke-width="1.75"/>
<path d="M114.50,957.60 L114.50,932.50 L127.60,932.50 L127.60,957.60" fill="#fff" stroke="#111" stroke-width="1.75"/>
<path d="M128.50,957.60 L128.50,949.50 L142.50,949.50 L142.50,957.60" fill="#fff" stroke="#cc38ff" stroke-width="1.75"/>
<circle cx="71.20" cy="947.40" r="1.85" fill="#111"/>
<circle cx="75.60" cy="945.30" r="1.85" fill="#111"/>
<circle cx="78.90" cy="947.40" r="1.85" fill="#111"/>
<circle cx="82.90" cy="946.50" r="1.85" fill="#111"/>
<circle cx="115.30" cy="929.90" r="1.85" fill="#111"/>
<circle cx="115.70" cy="932.50" r="1.85" fill="#111"/>
<circle cx="120.20" cy="932.50" r="1.85" fill="#111"/>
<circle cx="125.80" cy="933.00" r="1.85" fill="#111"/>
<circle cx="85.90" cy="950.00" r="1.85" fill="#cc38ff"/>
<circle cx="89.40" cy="949.50" r="1.85" fill="#cc38ff"/>
<circle cx="93.40" cy="950.00" r="1.85" fill="#cc38ff"/>
<circle cx="96.90" cy="950.00" r="1.85" fill="#cc38ff"/>
<circle cx="129.70" cy="949.20" r="1.85" fill="#cc38ff"/>
<circle cx="133.70" cy="948.30" r="1.85" fill="#cc38ff"/>
<circle cx="137.20" cy="949.20" r="1.85" fill="#cc38ff"/>
<circle cx="141.30" cy="949.20" r="1.85" fill="#cc38ff"/>
<line x1="62.50" y1="957.60" x2="150.70" y2="957.60" stroke="#111" stroke-width="1.6" />
<line x1="83.80" y1="957.60" x2="83.80" y2="961.40" stroke="#111" stroke-width="1.6" />
<line x1="127.60" y1="957.60" x2="127.60" y2="961.40" stroke="#111" stroke-width="1.6" />
<line x1="67.20" y1="969.70" x2="96.40" y2="969.70" stroke="#111" stroke-width="2.0" />
<line x1="115.00" y1="969.70" x2="144.20" y2="969.70" stroke="#111" stroke-width="2.0" />
<text x="49.40" y="983.51" font-size="11.2">Dox</text>
<text x="82.00" y="983.01" font-size="11.2" text-anchor="middle">-</text>
<text x="128.50" y="983.51" font-size="11.2" text-anchor="middle">+</text>
<line x1="74.25" y1="882.50" x2="96.25" y2="882.50" stroke="#111" stroke-width="1.8" />
<text x="67.30" y="876.32" font-size="9.0"><tspan font-style="italic">P</tspan> = 0.0021</text>
<line x1="119.50" y1="882.50" x2="142.00" y2="882.50" stroke="#111" stroke-width="1.8" />
<text x="117.30" y="876.32" font-size="9.0"><tspan font-style="italic">P</tspan> &lt; 0.0001</text>
<line x1="73.75" y1="865.00" x2="117.50" y2="865.00" stroke="#111" stroke-width="1.8" />
<text x="71.80" y="859.62" font-size="9.0"><tspan font-style="italic">P</tspan> &lt; 0.0001</text>
<line x1="97.00" y1="847.00" x2="140.00" y2="847.00" stroke="#111" stroke-width="1.8" />
<text x="95.55" y="841.62" font-size="9.0"><tspan font-style="italic">P</tspan> = 0.7735</text>
<text transform="translate(40.99,908.25) rotate(-90)" font-size="11.7" text-anchor="middle">Caspase 3/7 activity (AU)</text>
<line x1="228.70" y1="866.80" x2="228.70" y2="956.60" stroke="#111" stroke-width="1.6" />
<line x1="224.50" y1="867.50" x2="228.70" y2="867.50" stroke="#111" stroke-width="1.6" />
<text x="222.70" y="869.30" font-size="11.2" text-anchor="end">0.4</text>
<line x1="224.50" y1="885.18" x2="228.70" y2="885.18" stroke="#111" stroke-width="1.6" />
<text x="222.70" y="887.45" font-size="11.2" text-anchor="end">0.3</text>
<line x1="224.50" y1="902.85" x2="228.70" y2="902.85" stroke="#111" stroke-width="1.6" />
<text x="222.70" y="905.61" font-size="11.2" text-anchor="end">0.2</text>
<line x1="224.50" y1="920.53" x2="228.70" y2="920.53" stroke="#111" stroke-width="1.6" />
<text x="222.70" y="923.76" font-size="11.2" text-anchor="end">0.1</text>
<line x1="224.50" y1="938.20" x2="228.70" y2="938.20" stroke="#111" stroke-width="1.6" />
<text x="222.70" y="941.91" font-size="11.2" text-anchor="end">0</text>
<line x1="224.50" y1="955.88" x2="228.70" y2="955.88" stroke="#111" stroke-width="1.6" />
<text x="222.70" y="960.06" font-size="11.2" text-anchor="end">-0.1</text>
<line x1="228.70" y1="938.20" x2="317.30" y2="938.20" stroke="#333" stroke-width="0.9" stroke-dasharray="1 1.6"/>
<path d="M236.40,938.20 L236.40,938.40 L250.70,938.40 L250.70,938.20" fill="#fff" stroke="#111" stroke-width="1.75"/>
<path d="M251.10,938.20 L251.10,943.90 L265.10,943.90 L265.10,938.20" fill="#fff" stroke="#cc38ff" stroke-width="1.75"/>
<path d="M280.50,938.20 L280.50,929.40 L294.50,929.40 L294.50,938.20" fill="#fff" stroke="#111" stroke-width="1.75"/>
<path d="M295.30,938.20 L295.30,943.50 L309.40,943.50 L309.40,938.20" fill="#fff" stroke="#cc38ff" stroke-width="1.75"/>
<line x1="243.90" y1="934.70" x2="243.90" y2="943.50" stroke="#333" stroke-width="0.9" />
<line x1="241.50" y1="934.70" x2="246.30" y2="934.70" stroke="#333" stroke-width="0.9" />
<line x1="241.50" y1="943.50" x2="246.30" y2="943.50" stroke="#333" stroke-width="0.9" />
<line x1="288.10" y1="925.40" x2="288.10" y2="932.30" stroke="#333" stroke-width="0.9" />
<line x1="285.70" y1="925.40" x2="290.50" y2="925.40" stroke="#333" stroke-width="0.9" />
<line x1="285.70" y1="932.30" x2="290.50" y2="932.30" stroke="#333" stroke-width="0.9" />
<line x1="258.00" y1="942.00" x2="258.00" y2="945.50" stroke="#cc38ff" stroke-width="0.8" />
<line x1="255.80" y1="942.00" x2="260.20" y2="942.00" stroke="#cc38ff" stroke-width="0.8" />
<line x1="255.80" y1="945.50" x2="260.20" y2="945.50" stroke="#cc38ff" stroke-width="0.8" />
<line x1="302.40" y1="941.00" x2="302.40" y2="946.00" stroke="#cc38ff" stroke-width="0.8" />
<line x1="300.20" y1="941.00" x2="304.60" y2="941.00" stroke="#cc38ff" stroke-width="0.8" />
<line x1="300.20" y1="946.00" x2="304.60" y2="946.00" stroke="#cc38ff" stroke-width="0.8" />
<circle cx="239.90" cy="935.50" r="1.85" fill="#111"/>
<circle cx="247.10" cy="935.20" r="1.85" fill="#111"/>
<circle cx="239.90" cy="943.50" r="1.85" fill="#111"/>
<circle cx="247.10" cy="941.90" r="1.85" fill="#111"/>
<circle cx="288.10" cy="924.00" r="1.85" fill="#111"/>
<circle cx="283.70" cy="928.80" r="1.85" fill="#111"/>
<circle cx="292.10" cy="928.80" r="1.85" fill="#111"/>
<circle cx="288.10" cy="933.60" r="1.85" fill="#111"/>
<circle cx="252.30" cy="946.00" r="1.85" fill="#cc38ff"/>
<circle cx="256.00" cy="943.50" r="1.85" fill="#cc38ff"/>
<circle cx="259.20" cy="943.50" r="1.85" fill="#cc38ff"/>
<circle cx="263.20" cy="943.50" r="1.85" fill="#cc38ff"/>
<circle cx="296.90" cy="946.40" r="1.85" fill="#cc38ff"/>
<circle cx="296.90" cy="941.60" r="1.85" fill="#cc38ff"/>
<circle cx="302.50" cy="943.20" r="1.85" fill="#cc38ff"/>
<circle cx="308.10" cy="944.30" r="1.85" fill="#cc38ff"/>
<line x1="227.90" y1="955.90" x2="317.30" y2="955.90" stroke="#111" stroke-width="1.6" />
<line x1="250.70" y1="955.90" x2="250.70" y2="959.60" stroke="#111" stroke-width="1.6" />
<line x1="294.50" y1="955.90" x2="294.50" y2="959.60" stroke="#111" stroke-width="1.6" />
<line x1="234.30" y1="970.50" x2="264.00" y2="970.50" stroke="#111" stroke-width="2.0" />
<line x1="282.10" y1="970.50" x2="311.80" y2="970.50" stroke="#111" stroke-width="2.0" />
<text x="216.70" y="983.71" font-size="11.2">Dox</text>
<text x="249.50" y="983.01" font-size="11.2" text-anchor="middle">-</text>
<text x="296.10" y="983.71" font-size="11.2" text-anchor="middle">+</text>
<line x1="243.75" y1="883.75" x2="266.25" y2="883.75" stroke="#111" stroke-width="1.8" />
<text x="237.30" y="877.57" font-size="9.0"><tspan font-style="italic">P</tspan> = 0.1487</text>
<line x1="289.50" y1="883.75" x2="311.25" y2="883.75" stroke="#111" stroke-width="1.8" />
<text x="286.80" y="877.57" font-size="9.0"><tspan font-style="italic">P</tspan> &lt; 0.0001</text>
<line x1="243.75" y1="865.75" x2="287.50" y2="865.75" stroke="#111" stroke-width="1.8" />
<text x="241.80" y="860.37" font-size="9.0"><tspan font-style="italic">P</tspan> = 0.0016</text>
<line x1="266.25" y1="848.00" x2="310.00" y2="848.00" stroke="#111" stroke-width="1.8" />
<text x="264.80" y="842.62" font-size="9.0"><tspan font-style="italic">P</tspan> = 0.9998</text>
<text transform="translate(198.49,909.75) rotate(-90)" font-size="11.7" text-anchor="middle">LDH activity (AU)</text>
<line x1="408.30" y1="868.05" x2="408.30" y2="958.60" stroke="#111" stroke-width="1.6" />
<line x1="404.10" y1="868.75" x2="408.30" y2="868.75" stroke="#111" stroke-width="1.6" />
<text x="403.10" y="872.76" font-size="11.2" text-anchor="end">1.5</text>
<line x1="404.10" y1="898.47" x2="408.30" y2="898.47" stroke="#111" stroke-width="1.6" />
<text x="403.10" y="902.48" font-size="11.2" text-anchor="end">1.0</text>
<line x1="404.10" y1="928.18" x2="408.30" y2="928.18" stroke="#111" stroke-width="1.6" />
<text x="403.10" y="932.19" font-size="11.2" text-anchor="end">0.5</text>
<line x1="404.10" y1="957.90" x2="408.30" y2="957.90" stroke="#111" stroke-width="1.6" />
<text x="403.10" y="961.91" font-size="11.2" text-anchor="end">0</text>
<path d="M415.90,957.90 L415.90,898.00 L430.00,898.00 L430.00,957.90" fill="#fff" stroke="#111" stroke-width="1.75"/>
<path d="M430.70,957.90 L430.70,898.50 L445.10,898.50 L445.10,957.90" fill="#fff" stroke="#cc38ff" stroke-width="1.75"/>
<path d="M461.20,957.90 L461.20,905.70 L475.30,905.70 L475.30,957.90" fill="#fff" stroke="#111" stroke-width="1.75"/>
<path d="M476.10,957.90 L476.10,898.00 L490.20,898.00 L490.20,957.90" fill="#fff" stroke="#cc38ff" stroke-width="1.75"/>
<line x1="423.00" y1="895.80" x2="423.00" y2="900.20" stroke="#555" stroke-width="0.8" />
<line x1="420.80" y1="895.80" x2="425.20" y2="895.80" stroke="#555" stroke-width="0.8" />
<line x1="420.80" y1="900.20" x2="425.20" y2="900.20" stroke="#555" stroke-width="0.8" />
<line x1="437.90" y1="893.20" x2="437.90" y2="902.00" stroke="#cc38ff" stroke-width="0.8" />
<line x1="435.70" y1="893.20" x2="440.10" y2="893.20" stroke="#cc38ff" stroke-width="0.8" />
<line x1="435.70" y1="902.00" x2="440.10" y2="902.00" stroke="#cc38ff" stroke-width="0.8" />
<line x1="468.20" y1="902.00" x2="468.20" y2="909.00" stroke="#555" stroke-width="0.8" />
<line x1="466.00" y1="902.00" x2="470.40" y2="902.00" stroke="#555" stroke-width="0.8" />
<line x1="466.00" y1="909.00" x2="470.40" y2="909.00" stroke="#555" stroke-width="0.8" />
<line x1="483.20" y1="895.20" x2="483.20" y2="899.50" stroke="#cc38ff" stroke-width="0.8" />
<line x1="481.00" y1="895.20" x2="485.40" y2="895.20" stroke="#cc38ff" stroke-width="0.8" />
<line x1="481.00" y1="899.50" x2="485.40" y2="899.50" stroke="#cc38ff" stroke-width="0.8" />
<circle cx="417.50" cy="895.60" r="1.85" fill="#111"/>
<circle cx="423.10" cy="896.50" r="1.85" fill="#111"/>
<circle cx="417.50" cy="900.10" r="1.85" fill="#111"/>
<circle cx="428.40" cy="899.30" r="1.85" fill="#111"/>
<circle cx="464.00" cy="903.80" r="1.85" fill="#111"/>
<circle cx="471.80" cy="900.90" r="1.85" fill="#111"/>
<circle cx="464.00" cy="909.70" r="1.85" fill="#111"/>
<circle cx="471.30" cy="907.30" r="1.85" fill="#111"/>
<circle cx="432.30" cy="901.70" r="1.85" fill="#cc38ff"/>
<circle cx="438.00" cy="892.50" r="1.85" fill="#cc38ff"/>
<circle cx="438.70" cy="898.10" r="1.85" fill="#cc38ff"/>
<circle cx="444.00" cy="898.90" r="1.85" fill="#cc38ff"/>
<circle cx="477.20" cy="898.10" r="1.85" fill="#cc38ff"/>
<circle cx="483.30" cy="897.30" r="1.85" fill="#cc38ff"/>
<circle cx="488.90" cy="894.10" r="1.85" fill="#cc38ff"/>
<circle cx="488.90" cy="898.50" r="1.85" fill="#cc38ff"/>
<line x1="407.50" y1="957.90" x2="498.60" y2="957.90" stroke="#111" stroke-width="1.6" />
<line x1="430.00" y1="957.90" x2="430.00" y2="961.90" stroke="#111" stroke-width="1.6" />
<line x1="475.30" y1="957.90" x2="475.30" y2="961.90" stroke="#111" stroke-width="1.6" />
<line x1="414.30" y1="970.70" x2="443.20" y2="970.70" stroke="#111" stroke-width="2.0" />
<line x1="461.60" y1="970.70" x2="491.40" y2="970.70" stroke="#111" stroke-width="2.0" />
<text x="396.40" y="984.41" font-size="11.2">Dox</text>
<text x="428.70" y="983.81" font-size="11.2" text-anchor="middle">-</text>
<text x="475.30" y="984.41" font-size="11.2" text-anchor="middle">+</text>
<line x1="420.00" y1="883.75" x2="442.00" y2="883.75" stroke="#111" stroke-width="1.8" />
<text x="413.80" y="877.57" font-size="9.0"><tspan font-style="italic">P</tspan> &gt; 0.9999</text>
<line x1="465.00" y1="883.75" x2="487.00" y2="883.75" stroke="#111" stroke-width="1.8" />
<text x="463.05" y="877.57" font-size="9.0"><tspan font-style="italic">P</tspan> = 0.0117</text>
<line x1="419.25" y1="865.50" x2="463.00" y2="865.50" stroke="#111" stroke-width="1.8" />
<text x="418.05" y="860.12" font-size="9.0"><tspan font-style="italic">P</tspan> = 0.0190</text>
<line x1="442.50" y1="848.00" x2="486.25" y2="848.00" stroke="#111" stroke-width="1.8" />
<text x="441.05" y="842.62" font-size="9.0"><tspan font-style="italic">P</tspan> = 0.9946</text>
<text transform="translate(378.49,910.25) rotate(-90)" font-size="11.7" text-anchor="middle">Cell viability (AU)</text>
<rect x="510.50" y="861.25" width="79.50" height="26.25" fill="#fff" stroke="#111" stroke-width="1.2" />
<circle cx="518.75" cy="869.25" r="1.8" fill="#111"/>
<text x="521.75" y="872.26" font-size="8.4">Control siRNA</text>
<circle cx="518.75" cy="879.25" r="1.8" fill="#cc38ff"/>
<text x="521.75" y="882.26" font-size="8.4"><tspan font-style="italic">Bak</tspan>+<tspan font-style="italic">Bax</tspan> siRNA</text>
</svg></body></html>
